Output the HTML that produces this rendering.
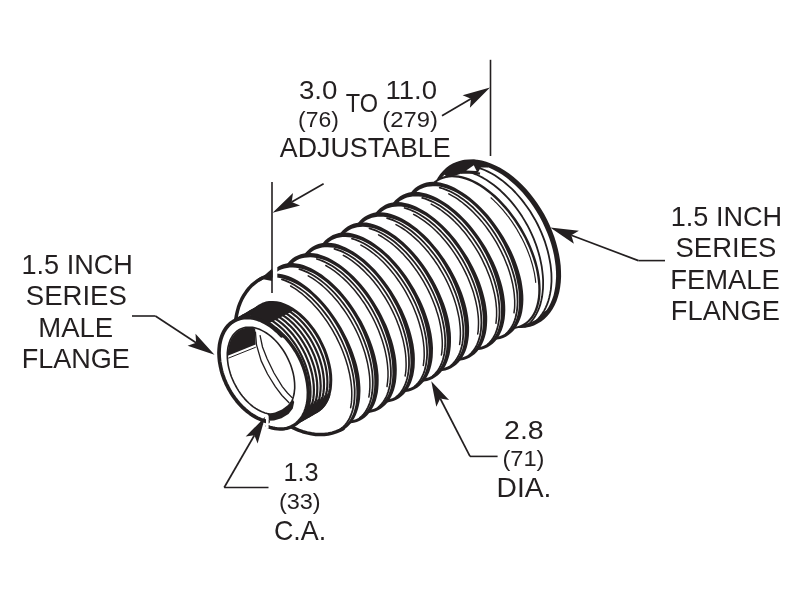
<!DOCTYPE html>
<html><head><meta charset="utf-8"><title>Adjustable bellows</title>
<style>
html,body{margin:0;padding:0;background:#fff;}
svg{display:block}
text{font-family:"Liberation Sans",sans-serif;fill:#231f20;}
</style></head><body>
<svg width="800" height="598" viewBox="0 0 800 598">
<rect width="800" height="598" fill="#fff"/>
<g id="bellows">
<path d="M536.1,322.1 L539.4,320.1 L542.5,317.8 L545.3,315.0 L547.9,312.0 L550.3,308.5 L552.3,304.8 L554.1,300.8 L555.6,296.5 L556.8,292.0 L557.7,287.2 L558.3,282.2 L558.6,277.0 L558.5,271.6 L558.2,266.2 L557.5,260.6 L556.5,254.9 L555.3,249.2 L553.7,243.4 L551.9,237.7 L549.7,232.0 L547.3,226.3 L544.7,220.7 L541.8,215.3 L538.6,209.9 L535.3,204.8 L531.7,199.8 L528.0,195.1 L524.1,190.6 L520.1,186.3 L515.9,182.3 L511.6,178.7 L507.3,175.3 L502.9,172.3 L498.4,169.6 L494.0,167.3 L489.5,165.4 L485.1,163.8 L480.7,162.7 L476.3,161.9 L472.1,161.5 L468.0,161.6 L463.9,162.0 L460.1,162.8 L456.4,164.1 L452.9,165.7 L449.6,167.7 L446.5,170.0 L443.7,172.8 L441.1,175.8 L438.7,179.3 L436.7,183.0 L434.9,187.0 L433.4,191.3 L432.2,195.8 L431.3,200.6 L430.7,205.6 L430.4,210.8 L430.5,216.2 L430.8,221.6 L431.5,227.2 L432.5,232.9 L433.7,238.6 L435.3,244.4 L437.1,250.1 L439.3,255.8 L441.7,261.5 L444.3,267.1 L447.2,272.5 L450.4,277.9 L453.7,283.0 L457.3,288.0 L461.0,292.7 L464.9,297.2 L468.9,301.5 L473.1,305.5 L477.4,309.1 L481.7,312.5 L486.1,315.5 L490.6,318.2 L495.0,320.5 L499.5,322.4 L503.9,324.0 L508.3,325.1 L512.7,325.9 L516.9,326.3 L521.0,326.2 L525.1,325.8 L528.9,325.0 L532.6,323.7Z" fill="#fff"/>
<path d="M500.0,324.4 L504.5,325.9 L509.0,327.1 L513.4,327.8 L517.8,328.1 L522.0,328.1 L526.2,327.6 L530.2,326.7 L534.0,325.4 L537.7,323.6 L541.2,321.5 L544.4,319.0 L547.4,316.1 L550.1,312.8 L552.5,309.2 L554.7,305.3 L556.5,301.2 L558.0,296.7 L559.3,292.0 L560.2,287.1 L560.8,281.9 L561.1,276.6 L561.0,271.2 L560.7,265.6 L560.0,259.9 L559.0,254.2 L557.7,248.4 L556.1,242.5 L554.3,236.7 L552.1,231.0 L549.7,225.2 L547.0,219.6 L544.1,214.1 L540.9,208.7 L537.5,203.5 L533.9,198.5 L530.2,193.7 L526.2,189.1 L522.1,184.8 L517.9,180.8 L513.6,177.1 L509.1,173.6 L504.6,170.6 L500.1,167.8 L495.5,165.4 L490.9,163.4 L486.3,161.8 L481.8,160.6 L477.3,159.8 L472.9,159.4 L468.5,159.4 L464.3,159.8 L460.3,160.7 L456.4,161.9 L452.7,163.6 L449.2,165.6 L446.0,168.1 L443.0,170.9 L440.3,174.0 L437.9,177.5 L435.7,181.2 L438.6,182.8 L440.7,179.3 L443.0,176.2 L445.6,173.4 L448.3,170.9 L451.3,168.8 L454.5,167.1 L457.8,165.7 L461.3,164.6 L464.9,163.9 L468.7,163.6 L472.6,163.7 L476.6,164.2 L480.8,165.0 L484.9,166.2 L489.2,167.8 L493.5,169.7 L497.7,172.0 L502.0,174.6 L506.2,177.6 L510.4,180.9 L514.5,184.5 L518.6,188.4 L522.5,192.5 L526.2,196.9 L529.8,201.6 L533.3,206.4 L536.5,211.4 L539.5,216.6 L542.4,221.9 L544.9,227.4 L547.3,232.9 L549.4,238.4 L551.2,244.0 L552.7,249.6 L554.0,255.2 L554.9,260.7 L555.6,266.1 L556.0,271.4 L556.1,276.5 L555.8,281.6 L555.3,286.4 L554.5,291.0 L553.5,295.4 L552.1,299.5 L550.5,303.3 L548.6,306.9 L546.5,310.2 L544.1,313.1 L541.5,315.7 L538.7,318.0 L535.7,320.0 L532.5,321.6 L529.1,322.9 L525.5,323.8 L521.7,324.3 L517.9,324.5 L513.8,324.2 L509.7,323.6 L505.5,322.7 L501.2,321.3Z" fill="#231f20"/>
<path d="M533.9,322.7 L536.3,320.8 L538.5,318.5 L540.5,316.1 L542.4,313.5 L544.2,310.6 L545.7,307.6 L547.1,304.4 L548.3,301.0 L549.3,297.4 L550.1,293.7 L550.8,289.9 L551.2,285.9 L551.5,281.8 L551.5,277.6 L551.4,273.4 L551.0,269.0 L550.5,264.6 L549.7,260.1 L548.8,255.6 L547.7,251.0 L546.4,246.5 L545.0,241.9 L543.3,237.4 L541.5,232.9 L539.5,228.4 L537.4,224.0 L535.1,219.7 L532.6,215.5 L530.1,211.3 L527.3,207.3 L524.5,203.4 L521.6,199.6 L518.5,196.0 L515.4,192.5 L512.2,189.2 L508.8,186.1 L505.5,183.2 L502.1,180.4 L498.6,177.9 L495.1,175.6 L491.6,173.5 L488.0,171.6 L484.5,170.0 L480.9,168.6 L477.4,167.4 L474.0,166.5 L470.5,165.8 L467.1,165.4" fill="none" stroke="#231f20" stroke-width="1.8" stroke-linecap="round" stroke-linejoin="round"/>
<path d="M528.5,324.7 L530.7,322.3 L532.7,319.8 L534.6,317.0 L536.3,314.1 L537.9,310.9 L539.2,307.6 L540.4,304.1 L541.3,300.4 L542.1,296.5 L542.6,292.5 L543.0,288.4 L543.1,284.2 L543.1,279.9 L542.8,275.5 L542.3,271.0 L541.7,266.4 L540.8,261.8 L539.8,257.2 L538.5,252.6 L537.1,247.9 L535.5,243.3 L533.7,238.7 L531.7,234.1 L529.6,229.6 L527.3,225.2 L524.8,220.9 L522.2,216.6 L519.5,212.5 L516.6,208.5 L513.6,204.6 L510.5,200.9 L507.3,197.3 L504.0,194.0 L500.7,190.8 L497.2,187.8 L493.8,185.0 L490.2,182.4 L486.6,180.0 L483.1,177.9 L479.4,176.0 L475.8,174.3 L472.2,172.9 L468.7,171.8 L465.1,170.9 L461.6,170.2 L458.2,169.8 L454.8,169.7 L451.5,169.8" fill="none" stroke="#231f20" stroke-width="1.8" stroke-linecap="round" stroke-linejoin="round"/>
<path d="M528.9,325.0 L529.6,324.8 L530.2,324.6 L530.9,324.4 L531.5,324.2 L532.1,323.9 L532.8,323.7 L533.4,323.4 L534.0,323.1 L534.6,322.9 L535.2,322.6 L535.8,322.3 L536.4,321.9 L537.0,321.6 L537.6,321.3 L538.2,320.9 L538.8,320.6 L539.3,320.2 L539.9,319.8 L540.4,319.4 L541.0,319.0 L541.5,318.6 L542.0,318.1 L542.5,317.7 L543.1,317.2 L543.6,316.8 L544.1,316.3 L544.6,315.8 L545.0,315.3 L545.5,314.8 L546.0,314.3 L546.5,313.8 L546.9,313.2 L547.4,312.7 L547.8,312.1 L548.2,311.5 L548.6,311.0 L549.1,310.4 L549.5,309.8 L549.9,309.2 L550.3,308.5 L544.1,311.8 L543.7,312.5 L543.3,313.1 L542.9,313.7 L542.5,314.3 L542.0,314.8 L541.6,315.4 L541.2,316.0 L540.7,316.5 L540.3,317.1 L539.8,317.6 L539.3,318.1 L538.9,318.6 L538.4,319.1 L537.9,319.6 L537.4,320.1 L536.9,320.5 L536.4,321.0 L535.8,321.4 L535.3,321.9 L534.8,322.3 L534.2,322.7 L533.7,323.1 L533.1,323.5 L532.6,323.8 L532.0,324.2 L531.4,324.6 L530.8,324.9 L530.3,325.2 L529.7,325.6 L529.1,325.9 L528.5,326.1 L527.8,326.4 L527.2,326.7 L526.6,327.0 L526.0,327.2 L525.3,327.4 L524.7,327.7 L524.0,327.9 L523.4,328.1 L522.7,328.3Z" fill="#231f20"/>
<path d="M524.0,324.5 L526.7,322.7 L529.1,320.6 L531.3,318.1 L533.3,315.3 L535.0,312.1 L536.4,308.7 L537.6,305.0 L538.5,301.1 L539.1,296.9 L539.4,292.5 L539.5,287.9 L539.2,283.2 L538.7,278.2 L537.9,273.2 L536.8,268.0 L535.5,262.8 L533.9,257.5 L532.0,252.2 L529.9,246.9 L527.5,241.6 L524.9,236.4 L522.1,231.3 L519.2,226.2 L516.0,221.3 L512.6,216.5 L509.1,211.9 L505.5,207.5 L501.7,203.3 L497.9,199.4 L493.9,195.7 L489.9,192.3 L485.9,189.2 L481.8,186.4 L477.7,183.9 L473.7,181.7 L469.7,179.9 L465.7,178.4 L461.8,177.3 L458.0,176.6 L454.3,176.2 L450.8,176.2 L447.4,176.6 L444.1,177.3 L441.1,178.4 L438.2,179.9 L435.5,181.7 L433.1,183.8 L430.9,186.3 L429.0,189.1 L427.3,192.3 L425.8,195.7 L424.7,199.4 L423.8,203.3 L423.1,207.5 L422.8,211.9 L422.8,216.5 L423.0,221.2 L423.5,226.2 L424.3,231.2 L425.4,236.4 L426.7,241.6 L428.4,246.9 L430.2,252.2 L432.3,257.5 L434.7,262.8 L437.3,268.0 L440.1,273.1 L443.1,278.2 L446.3,283.1 L449.6,287.9 L453.1,292.5 L456.7,296.9 L460.5,301.1 L464.4,305.0 L468.3,308.7 L472.3,312.1 L476.4,315.2 L480.4,318.0 L484.5,320.5 L488.6,322.7 L492.6,324.5 L496.5,326.0 L500.4,327.1 L504.2,327.8 L507.9,328.2 L511.5,328.2 L514.9,327.8 L518.1,327.1 L521.2,326.0Z" fill="#fff"/>
<path d="M508.8,329.2 L512.1,329.1 L515.3,328.8 L518.3,328.1 L521.2,327.1 L523.9,325.8 L526.5,324.1 L528.9,322.2 L531.1,320.0 L533.1,317.5 L534.8,314.8 L536.4,311.8 L537.7,308.6 L538.7,305.1 L539.6,301.5 L540.2,297.6 L540.5,293.6 L540.7,289.4 L540.5,285.0 L540.2,280.5 L539.6,276.0 L538.8,271.3 L537.7,266.5 L536.5,261.7 L535.0,256.9 L533.2,252.0 L531.3,247.2 L529.2,242.3 L526.9,237.5 L524.4,232.8 L521.8,228.1 L518.9,223.5 L516.0,219.1 L512.8,214.7 L509.6,210.6 L506.3,206.5 L502.8,202.7 L499.3,199.1 L495.7,195.6 L492.0,192.4 L488.3,189.5 L484.6,186.8 L480.8,184.3 L477.0,182.1 L473.3,180.2 L469.6,178.6 L465.9,177.3 L462.3,176.3 L458.7,175.6 L455.3,175.2 L451.9,175.1 L448.7,175.3 L445.5,175.8 L442.6,176.7 L439.7,177.9 L437.1,179.4 L434.6,181.1 L432.3,183.2 L430.3,185.5 L428.4,188.2 L426.8,191.0 L428.5,191.9 L430.1,189.2 L431.8,186.8 L433.8,184.6 L435.9,182.7 L438.2,181.1 L440.6,179.8 L443.3,178.7 L446.0,177.9 L448.9,177.5 L452.0,177.3 L455.1,177.4 L458.4,177.8 L461.8,178.5 L465.2,179.5 L468.7,180.8 L472.3,182.3 L475.9,184.2 L479.5,186.3 L483.2,188.7 L486.8,191.4 L490.4,194.3 L494.0,197.5 L497.5,200.8 L501.0,204.4 L504.4,208.2 L507.7,212.1 L510.8,216.2 L513.9,220.5 L516.8,224.9 L519.6,229.4 L522.2,234.0 L524.7,238.6 L526.9,243.4 L529.0,248.1 L530.9,252.9 L532.6,257.7 L534.1,262.4 L535.4,267.1 L536.4,271.8 L537.2,276.3 L537.8,280.8 L538.2,285.2 L538.3,289.4 L538.2,293.4 L537.9,297.3 L537.3,301.0 L536.5,304.5 L535.5,307.8 L534.3,310.9 L532.9,313.7 L531.3,316.3 L529.5,318.6 L527.5,320.7 L525.3,322.5 L522.9,324.0 L520.4,325.2 L517.7,326.2 L514.9,326.8 L511.9,327.2 L508.8,327.3Z" fill="#231f20"/>
<path d="M535.7,282.3 L535.5,280.5 L535.3,278.7 L535.0,276.8 L534.7,275.0 L534.4,273.1 L534.0,271.3 L533.5,269.4 L533.1,267.5 L532.6,265.6 L532.1,263.7 L531.5,261.8 L530.9,259.9 L530.3,257.9 L529.6,256.0 L528.9,254.1 L528.2,252.2 L527.4,250.3 L526.6,248.3 L525.8,246.4 L524.9,244.5 L524.0,242.6 L523.1,240.7 L522.1,238.8 L521.1,236.9 L520.1,235.1 L519.1,233.2 L518.0,231.4 L517.0,229.5 L515.8,227.7 L514.7,225.9 L513.5,224.1 L512.4,222.4 L511.2,220.6 L509.9,218.9 L508.7,217.2 L507.4,215.6 L506.1,213.9 L504.8,212.3 L503.5,210.7 L502.2,209.1 L500.8,207.6 L499.4,206.1 L498.0,204.6 L496.6,203.2 L495.2,201.8 L493.8,200.4 L492.4,199.1 L491.0,197.8" fill="none" stroke="#231f20" stroke-width="1.2" stroke-linecap="round" stroke-linejoin="round"/>
<path d="M442.5,173.0 L446.0,169.3 L451.0,165.5 L457.0,162.4 L462.0,160.8 L466.0,160.2 L474.0,159.6 L482.5,161.4 L489.0,165.5 L487.8,167.6 L480.8,167.5 L478.2,172.0 L465.0,172.2 L456.3,175.2 L447.5,177.2Z" fill="#231f20"/>
<path d="M466.2,170.6 L473.8,165.2 L476.6,170.9Z" fill="#fff"/>
<path d="M461.0,172.6 L470.0,172.2 L480.0,173.6" fill="none" stroke="#231f20" stroke-width="2.4" stroke-linejoin="miter"/>
<path d="M505.8,335.0 L508.4,333.2 L510.9,331.1 L513.1,328.6 L515.0,325.8 L516.7,322.6 L518.2,319.2 L519.3,315.5 L520.2,311.5 L520.8,307.3 L521.1,302.8 L521.2,298.2 L520.9,293.3 L520.4,288.4 L519.6,283.2 L518.5,278.0 L517.1,272.7 L515.5,267.3 L513.6,262.0 L511.5,256.6 L509.1,251.2 L506.5,245.9 L503.7,240.6 L500.6,235.5 L497.4,230.4 L494.1,225.6 L490.5,220.9 L486.9,216.4 L483.1,212.1 L479.2,208.1 L475.2,204.3 L471.2,200.8 L467.1,197.6 L463.0,194.7 L458.9,192.1 L454.9,189.8 L450.8,188.0 L446.8,186.4 L442.9,185.3 L439.1,184.5 L435.4,184.0 L431.8,184.0 L428.4,184.3 L425.2,185.0 L422.1,186.1 L419.2,187.6 L416.6,189.4 L414.1,191.5 L411.9,194.0 L410.0,196.8 L408.3,200.0 L406.8,203.4 L405.7,207.1 L404.8,211.1 L404.2,215.3 L403.9,219.8 L403.8,224.4 L404.1,229.3 L404.6,234.2 L405.4,239.4 L406.5,244.6 L407.9,249.9 L409.5,255.3 L411.4,260.6 L413.5,266.0 L415.9,271.4 L418.5,276.7 L421.3,282.0 L424.4,287.1 L427.6,292.2 L430.9,297.0 L434.5,301.7 L438.1,306.2 L441.9,310.5 L445.8,314.5 L449.8,318.3 L453.8,321.8 L457.9,325.0 L462.0,327.9 L466.1,330.5 L470.1,332.8 L474.2,334.6 L478.2,336.2 L482.1,337.3 L485.9,338.1 L489.6,338.6 L493.2,338.6 L496.6,338.3 L499.8,337.6 L502.9,336.5Z" fill="#fff"/>
<path d="M490.4,340.0 L493.8,340.0 L497.0,339.6 L500.1,339.0 L503.1,338.0 L505.9,336.7 L508.5,335.1 L511.0,333.1 L513.2,330.9 L515.3,328.4 L517.1,325.6 L518.7,322.6 L520.1,319.3 L521.3,315.8 L522.2,312.0 L522.8,308.1 L523.2,303.9 L523.4,299.6 L523.3,295.2 L522.9,290.6 L522.3,285.9 L521.5,281.1 L520.4,276.2 L519.0,271.3 L517.5,266.4 L515.7,261.4 L513.7,256.5 L511.5,251.6 L509.1,246.7 L506.5,241.9 L503.7,237.1 L500.8,232.4 L497.8,227.9 L494.6,223.5 L491.4,219.2 L488.0,215.1 L484.5,211.2 L480.9,207.5 L477.3,203.9 L473.6,200.7 L469.8,197.6 L466.1,194.8 L462.3,192.2 L458.5,189.9 L454.8,187.8 L451.0,186.1 L447.3,184.6 L443.7,183.4 L440.0,182.5 L436.5,181.9 L433.0,181.7 L429.6,181.9 L426.4,182.5 L423.3,183.4 L420.4,184.7 L417.6,186.2 L415.1,188.1 L412.8,190.3 L410.7,192.7 L408.8,195.4 L407.1,198.4 L410.2,199.9 L411.7,197.3 L413.5,194.9 L415.4,192.9 L417.5,191.1 L419.7,189.6 L422.1,188.4 L424.6,187.4 L427.3,186.8 L430.1,186.4 L433.0,186.2 L436.1,186.3 L439.3,186.6 L442.6,187.3 L446.1,188.2 L449.6,189.4 L453.2,191.0 L456.8,192.8 L460.5,195.0 L464.2,197.4 L467.8,200.1 L471.5,203.1 L475.1,206.3 L478.6,209.7 L482.1,213.4 L485.5,217.3 L488.7,221.3 L491.9,225.5 L495.0,229.9 L497.9,234.3 L500.6,238.9 L503.2,243.6 L505.6,248.4 L507.8,253.2 L509.9,258.1 L511.7,262.9 L513.3,267.8 L514.8,272.6 L516.0,277.3 L517.0,282.0 L517.9,286.6 L518.5,291.1 L518.8,295.4 L519.0,299.6 L519.0,303.7 L518.7,307.6 L518.2,311.3 L517.5,314.8 L516.6,318.0 L515.5,321.1 L514.1,323.9 L512.6,326.5 L510.8,328.8 L508.9,330.8 L506.8,332.6 L504.5,334.1 L502.0,335.3 L499.4,336.2 L496.6,336.9 L493.6,337.2 L490.5,337.2Z" fill="#231f20"/>
<path d="M506.0,333.8 L507.8,332.1 L509.4,330.1 L510.9,328.0 L512.3,325.7 L513.5,323.3 L514.6,320.6 L515.5,317.8 L516.2,314.8 L516.8,311.7 L517.2,308.5 L517.5,305.1 L517.6,301.7 L517.5,298.1 L517.3,294.4 L516.9,290.6 L516.3,286.7 L515.6,282.8 L514.7,278.8 L513.6,274.8 L512.4,270.8 L511.1,266.7 L509.6,262.6 L508.0,258.5 L506.2,254.5 L504.3,250.4 L502.3,246.4 L500.1,242.5 L497.8,238.6 L495.5,234.7 L493.0,231.0 L490.4,227.3 L487.7,223.8 L485.0,220.3 L482.2,217.0 L479.3,213.8 L476.3,210.8 L473.4,207.8 L470.3,205.1 L467.3,202.5 L464.2,200.1 L461.1,197.9 L458.0,195.8 L454.9,194.0 L451.8,192.3 L448.7,190.8 L445.7,189.6 L442.7,188.5 L439.7,187.7" fill="none" stroke="#231f20" stroke-width="1.8" stroke-linecap="round" stroke-linejoin="round"/>
<path d="M514.0,312.8 L514.3,310.4 L514.6,308.0 L514.7,305.5 L514.7,302.9 L514.7,300.3 L514.5,297.7 L514.3,295.0 L514.0,292.2 L513.6,289.4 L513.1,286.6 L512.6,283.7 L511.9,280.8 L511.2,277.9 L510.4,275.0 L509.5,272.0 L508.5,269.1 L507.5,266.1 L506.3,263.2 L505.1,260.2 L503.9,257.2 L502.5,254.3 L501.1,251.4 L499.6,248.5 L498.1,245.6 L496.5,242.7 L494.8,239.9 L493.1,237.1 L491.3,234.4 L489.5,231.7 L487.6,229.0 L485.7,226.4 L483.7,223.9 L481.7,221.4 L479.6,219.0 L477.6,216.7 L475.4,214.4 L473.3,212.2 L471.1,210.1 L468.9,208.1 L466.7,206.1 L464.5,204.3 L462.3,202.5 L460.0,200.8 L457.8,199.2 L455.5,197.7 L453.2,196.3 L451.0,195.1 L448.8,193.9" fill="none" stroke="#231f20" stroke-width="1.5" stroke-linecap="round" stroke-linejoin="round"/>
<path d="M487.5,345.6 L490.2,343.8 L492.6,341.6 L494.8,339.1 L496.8,336.3 L498.5,333.2 L500.0,329.8 L501.2,326.1 L502.1,322.1 L502.7,317.9 L503.0,313.4 L503.1,308.8 L502.9,303.9 L502.4,298.9 L501.6,293.8 L500.5,288.6 L499.2,283.3 L497.6,277.9 L495.7,272.5 L493.6,267.1 L491.2,261.7 L488.7,256.4 L485.9,251.1 L482.9,245.9 L479.7,240.9 L476.3,236.0 L472.8,231.3 L469.2,226.8 L465.4,222.5 L461.6,218.4 L457.6,214.6 L453.6,211.1 L449.5,207.9 L445.5,205.0 L441.4,202.4 L437.3,200.1 L433.3,198.2 L429.3,196.6 L425.4,195.5 L421.6,194.6 L417.9,194.2 L414.3,194.1 L410.9,194.5 L407.7,195.2 L404.6,196.2 L401.7,197.6 L399.0,199.4 L396.6,201.6 L394.4,204.1 L392.4,206.9 L390.7,210.0 L389.2,213.4 L388.0,217.1 L387.1,221.1 L386.5,225.3 L386.2,229.8 L386.1,234.4 L386.3,239.3 L386.8,244.3 L387.6,249.4 L388.7,254.6 L390.0,259.9 L391.6,265.3 L393.5,270.7 L395.6,276.1 L398.0,281.5 L400.5,286.8 L403.3,292.1 L406.3,297.3 L409.5,302.3 L412.9,307.2 L416.4,311.9 L420.0,316.4 L423.8,320.7 L427.6,324.8 L431.6,328.6 L435.6,332.1 L439.7,335.3 L443.7,338.2 L447.8,340.8 L451.9,343.1 L455.9,345.0 L459.9,346.6 L463.8,347.7 L467.6,348.6 L471.3,349.0 L474.9,349.1 L478.3,348.7 L481.5,348.0 L484.6,347.0Z" fill="#fff"/>
<path d="M472.2,350.4 L475.5,350.4 L478.7,350.1 L481.8,349.4 L484.8,348.5 L487.6,347.2 L490.3,345.6 L492.7,343.7 L495.0,341.4 L497.1,339.0 L498.9,336.2 L500.5,333.1 L501.9,329.9 L503.1,326.3 L504.0,322.6 L504.7,318.7 L505.1,314.5 L505.3,310.2 L505.2,305.8 L504.9,301.2 L504.3,296.5 L503.5,291.7 L502.4,286.8 L501.1,281.9 L499.5,277.0 L497.8,272.0 L495.8,267.0 L493.6,262.1 L491.2,257.2 L488.7,252.4 L486.0,247.6 L483.1,242.9 L480.1,238.4 L476.9,234.0 L473.7,229.7 L470.3,225.6 L466.8,221.6 L463.3,217.9 L459.6,214.3 L456.0,211.0 L452.2,207.9 L448.5,205.1 L444.7,202.5 L441.0,200.2 L437.2,198.1 L433.5,196.3 L429.8,194.8 L426.1,193.6 L422.5,192.7 L419.0,192.1 L415.5,191.9 L412.1,192.1 L408.9,192.6 L405.8,193.5 L402.8,194.7 L400.1,196.3 L397.6,198.2 L395.2,200.3 L393.1,202.8 L391.2,205.5 L389.5,208.4 L392.6,210.0 L394.1,207.3 L395.9,205.0 L397.8,202.9 L399.9,201.1 L402.2,199.7 L404.6,198.5 L407.1,197.6 L409.8,196.9 L412.6,196.5 L415.5,196.4 L418.6,196.5 L421.8,196.8 L425.1,197.5 L428.5,198.4 L432.1,199.7 L435.7,201.2 L439.3,203.1 L442.9,205.3 L446.6,207.7 L450.2,210.5 L453.9,213.4 L457.4,216.7 L461.0,220.1 L464.4,223.8 L467.8,227.7 L471.0,231.7 L474.2,235.9 L477.2,240.3 L480.1,244.8 L482.8,249.4 L485.4,254.1 L487.8,258.9 L490.0,263.7 L492.0,268.6 L493.8,273.5 L495.4,278.3 L496.8,283.1 L498.0,287.9 L499.0,292.6 L499.8,297.2 L500.4,301.6 L500.8,306.0 L500.9,310.2 L500.9,314.3 L500.6,318.2 L500.1,321.8 L499.3,325.3 L498.4,328.6 L497.3,331.7 L495.9,334.5 L494.4,337.0 L492.6,339.3 L490.7,341.3 L488.5,343.1 L486.2,344.6 L483.7,345.8 L481.1,346.7 L478.3,347.3 L475.4,347.6 L472.3,347.7Z" fill="#231f20"/>
<path d="M487.7,344.3 L489.5,342.6 L491.2,340.7 L492.7,338.6 L494.1,336.3 L495.3,333.8 L496.4,331.2 L497.3,328.4 L498.0,325.4 L498.6,322.3 L499.1,319.1 L499.4,315.7 L499.5,312.2 L499.4,308.6 L499.2,304.9 L498.8,301.2 L498.3,297.3 L497.6,293.4 L496.7,289.4 L495.7,285.4 L494.5,281.3 L493.2,277.2 L491.7,273.1 L490.1,269.1 L488.3,265.0 L486.5,260.9 L484.4,256.9 L482.3,252.9 L480.1,249.0 L477.7,245.2 L475.2,241.4 L472.7,237.8 L470.0,234.2 L467.3,230.7 L464.5,227.4 L461.6,224.2 L458.7,221.1 L455.7,218.2 L452.7,215.4 L449.6,212.8 L446.6,210.4 L443.5,208.2 L440.4,206.1 L437.3,204.2 L434.2,202.5 L431.1,201.1 L428.1,199.8 L425.1,198.7 L422.2,197.9" fill="none" stroke="#231f20" stroke-width="1.8" stroke-linecap="round" stroke-linejoin="round"/>
<path d="M495.9,323.3 L496.2,321.0 L496.4,318.5 L496.6,316.0 L496.6,313.5 L496.6,310.9 L496.5,308.2 L496.2,305.5 L496.0,302.8 L495.6,300.0 L495.1,297.1 L494.6,294.3 L493.9,291.4 L493.2,288.5 L492.4,285.5 L491.5,282.6 L490.6,279.6 L489.5,276.6 L488.4,273.7 L487.2,270.7 L486.0,267.7 L484.6,264.8 L483.2,261.9 L481.8,258.9 L480.3,256.1 L478.7,253.2 L477.0,250.4 L475.3,247.6 L473.5,244.8 L471.7,242.1 L469.8,239.5 L467.9,236.9 L466.0,234.3 L464.0,231.8 L461.9,229.4 L459.9,227.1 L457.8,224.8 L455.6,222.6 L453.5,220.4 L451.3,218.4 L449.1,216.4 L446.9,214.6 L444.6,212.8 L442.4,211.1 L440.2,209.5 L437.9,208.0 L435.7,206.6 L433.4,205.3 L431.2,204.1" fill="none" stroke="#231f20" stroke-width="1.5" stroke-linecap="round" stroke-linejoin="round"/>
<path d="M469.2,356.1 L471.9,354.3 L474.4,352.2 L476.6,349.7 L478.6,346.9 L480.3,343.8 L481.8,340.3 L483.0,336.6 L483.9,332.7 L484.6,328.4 L484.9,324.0 L485.0,319.3 L484.8,314.5 L484.3,309.5 L483.6,304.4 L482.5,299.2 L481.2,293.8 L479.6,288.5 L477.8,283.0 L475.7,277.6 L473.4,272.2 L470.8,266.9 L468.1,261.6 L465.1,256.4 L461.9,251.4 L458.6,246.5 L455.1,241.7 L451.5,237.2 L447.8,232.9 L443.9,228.8 L440.0,225.0 L436.0,221.5 L432.0,218.2 L427.9,215.3 L423.8,212.7 L419.8,210.4 L415.7,208.4 L411.8,206.9 L407.9,205.7 L404.1,204.8 L400.4,204.4 L396.8,204.3 L393.4,204.6 L390.1,205.3 L387.0,206.3 L384.2,207.7 L381.5,209.5 L379.0,211.6 L376.8,214.1 L374.8,216.9 L373.1,220.0 L371.6,223.5 L370.4,227.2 L369.5,231.1 L368.8,235.4 L368.5,239.8 L368.4,244.5 L368.6,249.3 L369.1,254.3 L369.8,259.4 L370.9,264.6 L372.2,270.0 L373.8,275.3 L375.6,280.8 L377.7,286.2 L380.0,291.6 L382.6,296.9 L385.3,302.2 L388.3,307.4 L391.5,312.4 L394.8,317.3 L398.3,322.1 L401.9,326.6 L405.6,330.9 L409.5,335.0 L413.4,338.8 L417.4,342.3 L421.4,345.6 L425.5,348.5 L429.6,351.1 L433.6,353.4 L437.7,355.4 L441.6,356.9 L445.5,358.1 L449.3,359.0 L453.0,359.4 L456.6,359.5 L460.0,359.2 L463.3,358.5 L466.4,357.5Z" fill="#fff"/>
<path d="M453.9,360.8 L457.2,360.9 L460.5,360.6 L463.6,359.9 L466.5,359.0 L469.4,357.7 L472.0,356.1 L474.5,354.2 L476.8,352.0 L478.8,349.5 L480.7,346.7 L482.3,343.7 L483.7,340.4 L484.9,336.9 L485.9,333.2 L486.6,329.2 L487.0,325.1 L487.2,320.8 L487.2,316.4 L486.9,311.8 L486.3,307.1 L485.5,302.3 L484.4,297.4 L483.1,292.5 L481.6,287.5 L479.9,282.6 L477.9,277.6 L475.7,272.6 L473.4,267.7 L470.9,262.9 L468.2,258.1 L465.3,253.4 L462.3,248.9 L459.2,244.4 L456.0,240.1 L452.6,236.0 L449.2,232.0 L445.6,228.3 L442.0,224.7 L438.4,221.4 L434.6,218.3 L430.9,215.4 L427.2,212.8 L423.4,210.4 L419.7,208.4 L416.0,206.5 L412.3,205.0 L408.6,203.8 L405.0,202.9 L401.5,202.3 L398.0,202.0 L394.6,202.2 L391.3,202.7 L388.2,203.6 L385.3,204.8 L382.6,206.4 L380.0,208.3 L377.7,210.4 L375.6,212.8 L373.6,215.5 L372.0,218.4 L375.0,220.0 L376.6,217.4 L378.3,215.1 L380.2,213.0 L382.3,211.2 L384.6,209.8 L387.0,208.6 L389.6,207.7 L392.2,207.0 L395.0,206.7 L398.0,206.5 L401.0,206.6 L404.2,207.0 L407.6,207.7 L411.0,208.7 L414.5,209.9 L418.1,211.5 L421.7,213.4 L425.4,215.6 L429.0,218.0 L432.6,220.8 L436.2,223.8 L439.8,227.0 L443.3,230.5 L446.7,234.2 L450.1,238.1 L453.3,242.2 L456.5,246.4 L459.5,250.8 L462.3,255.3 L465.0,259.9 L467.6,264.6 L469.9,269.4 L472.1,274.3 L474.1,279.1 L475.9,284.0 L477.5,288.8 L478.9,293.7 L480.1,298.4 L481.0,303.1 L481.8,307.7 L482.4,312.2 L482.7,316.6 L482.8,320.8 L482.7,324.8 L482.4,328.7 L481.9,332.4 L481.2,335.9 L480.2,339.2 L479.1,342.2 L477.7,345.0 L476.1,347.6 L474.4,349.8 L472.4,351.9 L470.3,353.6 L468.0,355.1 L465.5,356.3 L462.8,357.2 L460.0,357.8 L457.1,358.1 L454.0,358.1Z" fill="#231f20"/>
<path d="M469.5,354.8 L471.3,353.1 L472.9,351.2 L474.5,349.1 L475.9,346.8 L477.1,344.3 L478.2,341.7 L479.1,338.9 L479.9,336.0 L480.5,332.9 L481.0,329.6 L481.2,326.3 L481.4,322.8 L481.3,319.2 L481.1,315.5 L480.8,311.7 L480.2,307.9 L479.6,303.9 L478.7,299.9 L477.7,295.9 L476.6,291.9 L475.2,287.8 L473.8,283.7 L472.2,279.6 L470.5,275.5 L468.6,271.4 L466.6,267.4 L464.5,263.4 L462.3,259.5 L459.9,255.7 L457.5,251.9 L454.9,248.2 L452.3,244.6 L449.6,241.1 L446.8,237.8 L443.9,234.6 L441.0,231.5 L438.1,228.6 L435.1,225.8 L432.0,223.2 L429.0,220.7 L425.9,218.5 L422.8,216.4 L419.7,214.5 L416.6,212.8 L413.6,211.3 L410.6,210.0 L407.6,208.9 L404.6,208.0" fill="none" stroke="#231f20" stroke-width="1.8" stroke-linecap="round" stroke-linejoin="round"/>
<path d="M477.7,333.9 L478.1,331.5 L478.3,329.1 L478.4,326.6 L478.5,324.0 L478.5,321.4 L478.4,318.8 L478.2,316.1 L477.9,313.3 L477.5,310.5 L477.1,307.7 L476.5,304.8 L475.9,301.9 L475.2,299.0 L474.4,296.1 L473.6,293.1 L472.6,290.1 L471.6,287.2 L470.5,284.2 L469.3,281.2 L468.1,278.2 L466.8,275.3 L465.4,272.4 L463.9,269.4 L462.4,266.5 L460.8,263.7 L459.2,260.8 L457.5,258.0 L455.8,255.3 L454.0,252.6 L452.1,249.9 L450.2,247.3 L448.3,244.7 L446.3,242.2 L444.2,239.8 L442.2,237.4 L440.1,235.1 L438.0,232.9 L435.8,230.8 L433.7,228.7 L431.5,226.8 L429.3,224.9 L427.0,223.1 L424.8,221.4 L422.6,219.8 L420.3,218.3 L418.1,216.8 L415.8,215.5 L413.6,214.3" fill="none" stroke="#231f20" stroke-width="1.5" stroke-linecap="round" stroke-linejoin="round"/>
<path d="M451.0,366.6 L453.7,364.8 L456.1,362.7 L458.4,360.2 L460.4,357.4 L462.1,354.3 L463.6,350.9 L464.8,347.2 L465.8,343.2 L466.4,339.0 L466.8,334.6 L466.9,329.9 L466.8,325.1 L466.3,320.1 L465.6,315.0 L464.5,309.7 L463.3,304.4 L461.7,299.0 L459.9,293.6 L457.8,288.2 L455.5,282.8 L453.0,277.4 L450.3,272.1 L447.3,266.9 L444.2,261.9 L440.9,256.9 L437.4,252.2 L433.8,247.6 L430.1,243.3 L426.3,239.2 L422.4,235.4 L418.4,231.8 L414.4,228.5 L410.3,225.6 L406.3,222.9 L402.2,220.6 L398.2,218.7 L394.2,217.1 L390.3,215.9 L386.5,215.0 L382.8,214.6 L379.3,214.5 L375.9,214.7 L372.6,215.4 L369.5,216.4 L366.6,217.8 L363.9,219.6 L361.5,221.7 L359.2,224.2 L357.2,227.0 L355.5,230.1 L354.0,233.5 L352.8,237.2 L351.8,241.2 L351.2,245.4 L350.8,249.8 L350.7,254.5 L350.8,259.3 L351.3,264.3 L352.0,269.4 L353.1,274.7 L354.3,280.0 L355.9,285.4 L357.7,290.8 L359.8,296.2 L362.1,301.6 L364.6,307.0 L367.3,312.3 L370.3,317.5 L373.4,322.5 L376.7,327.5 L380.2,332.2 L383.8,336.8 L387.5,341.1 L391.3,345.2 L395.2,349.0 L399.2,352.6 L403.2,355.9 L407.3,358.8 L411.3,361.5 L415.4,363.8 L419.4,365.7 L423.4,367.3 L427.3,368.5 L431.1,369.4 L434.8,369.8 L438.3,369.9 L441.7,369.7 L445.0,369.0 L448.1,368.0Z" fill="#fff"/>
<path d="M435.6,371.3 L438.9,371.3 L442.2,371.0 L445.3,370.4 L448.3,369.5 L451.1,368.2 L453.7,366.6 L456.2,364.7 L458.5,362.5 L460.6,360.1 L462.5,357.3 L464.1,354.3 L465.6,351.0 L466.8,347.5 L467.7,343.8 L468.4,339.8 L468.9,335.7 L469.1,331.4 L469.1,327.0 L468.8,322.4 L468.3,317.7 L467.5,312.9 L466.5,308.0 L465.2,303.1 L463.7,298.1 L462.0,293.1 L460.0,288.1 L457.9,283.2 L455.6,278.3 L453.1,273.4 L450.4,268.6 L447.6,263.9 L444.6,259.3 L441.5,254.9 L438.3,250.6 L434.9,246.4 L431.5,242.4 L428.0,238.6 L424.4,235.1 L420.7,231.7 L417.1,228.6 L413.3,225.7 L409.6,223.1 L405.9,220.7 L402.1,218.6 L398.4,216.8 L394.7,215.2 L391.1,214.0 L387.5,213.0 L384.0,212.4 L380.5,212.2 L377.1,212.3 L373.8,212.8 L370.7,213.7 L367.8,214.9 L365.0,216.5 L362.5,218.3 L360.1,220.5 L358.0,222.9 L356.1,225.5 L354.4,228.5 L357.4,230.1 L359.0,227.5 L360.7,225.1 L362.7,223.1 L364.8,221.3 L367.1,219.8 L369.5,218.7 L372.0,217.8 L374.7,217.2 L377.5,216.8 L380.4,216.7 L383.5,216.8 L386.7,217.2 L390.0,217.9 L393.5,218.9 L397.0,220.2 L400.5,221.8 L404.1,223.7 L407.8,225.9 L411.4,228.4 L415.0,231.1 L418.6,234.1 L422.2,237.4 L425.7,240.9 L429.1,244.6 L432.4,248.5 L435.6,252.6 L438.7,256.8 L441.7,261.2 L444.5,265.8 L447.2,270.4 L449.7,275.1 L452.1,279.9 L454.2,284.8 L456.2,289.7 L458.0,294.5 L459.5,299.4 L460.9,304.2 L462.1,309.0 L463.0,313.7 L463.8,318.3 L464.3,322.8 L464.6,327.1 L464.7,331.4 L464.6,335.4 L464.3,339.3 L463.8,343.0 L463.0,346.5 L462.1,349.7 L460.9,352.8 L459.5,355.6 L457.9,358.1 L456.1,360.4 L454.2,362.4 L452.0,364.1 L449.7,365.6 L447.2,366.8 L444.6,367.7 L441.8,368.2 L438.8,368.5 L435.7,368.5Z" fill="#231f20"/>
<path d="M451.2,365.3 L453.0,363.6 L454.7,361.7 L456.2,359.6 L457.6,357.3 L458.9,354.9 L460.0,352.3 L460.9,349.5 L461.7,346.5 L462.4,343.4 L462.8,340.2 L463.1,336.8 L463.3,333.4 L463.2,329.8 L463.1,326.1 L462.7,322.3 L462.2,318.4 L461.5,314.5 L460.7,310.5 L459.7,306.5 L458.6,302.4 L457.3,298.3 L455.9,294.2 L454.3,290.1 L452.6,286.0 L450.8,281.9 L448.8,277.9 L446.7,273.9 L444.5,270.0 L442.1,266.1 L439.7,262.3 L437.2,258.6 L434.6,255.0 L431.9,251.6 L429.1,248.2 L426.3,245.0 L423.4,241.9 L420.4,238.9 L417.4,236.1 L414.4,233.5 L411.4,231.0 L408.3,228.7 L405.2,226.7 L402.2,224.7 L399.1,223.0 L396.0,221.5 L393.0,220.2 L390.0,219.1 L387.1,218.2" fill="none" stroke="#231f20" stroke-width="1.8" stroke-linecap="round" stroke-linejoin="round"/>
<path d="M459.6,344.4 L459.9,342.1 L460.2,339.6 L460.3,337.1 L460.4,334.6 L460.4,332.0 L460.3,329.3 L460.1,326.6 L459.8,323.9 L459.5,321.1 L459.1,318.2 L458.5,315.4 L457.9,312.5 L457.2,309.5 L456.5,306.6 L455.6,303.6 L454.7,300.7 L453.7,297.7 L452.6,294.7 L451.4,291.7 L450.2,288.8 L448.9,285.8 L447.5,282.8 L446.1,279.9 L444.6,277.0 L443.0,274.1 L441.4,271.3 L439.7,268.5 L438.0,265.7 L436.2,263.0 L434.4,260.3 L432.5,257.7 L430.5,255.1 L428.6,252.6 L426.6,250.2 L424.5,247.8 L422.4,245.5 L420.3,243.3 L418.2,241.1 L416.0,239.1 L413.8,237.1 L411.6,235.2 L409.4,233.4 L407.2,231.7 L405.0,230.0 L402.7,228.5 L400.5,227.1 L398.3,225.8 L396.0,224.6" fill="none" stroke="#231f20" stroke-width="1.5" stroke-linecap="round" stroke-linejoin="round"/>
<path d="M432.7,377.1 L435.4,375.3 L437.9,373.2 L440.1,370.8 L442.2,368.0 L443.9,364.9 L445.4,361.5 L446.7,357.8 L447.6,353.8 L448.3,349.6 L448.7,345.2 L448.9,340.5 L448.7,335.7 L448.3,330.7 L447.5,325.6 L446.6,320.3 L445.3,315.0 L443.8,309.6 L442.0,304.1 L439.9,298.7 L437.7,293.3 L435.2,287.9 L432.5,282.6 L429.5,277.4 L426.4,272.3 L423.2,267.4 L419.7,262.6 L416.1,258.1 L412.4,253.7 L408.6,249.6 L404.7,245.7 L400.8,242.1 L396.8,238.9 L392.7,235.9 L388.7,233.2 L384.7,230.9 L380.7,228.9 L376.7,227.3 L372.8,226.1 L369.0,225.2 L365.3,224.7 L361.8,224.6 L358.3,224.9 L355.1,225.5 L352.0,226.5 L349.1,227.9 L346.4,229.7 L343.9,231.8 L341.7,234.2 L339.6,237.0 L337.9,240.1 L336.4,243.5 L335.1,247.2 L334.2,251.2 L333.5,255.4 L333.1,259.8 L332.9,264.5 L333.1,269.3 L333.5,274.3 L334.3,279.4 L335.2,284.7 L336.5,290.0 L338.0,295.4 L339.8,300.9 L341.9,306.3 L344.1,311.7 L346.6,317.1 L349.3,322.4 L352.3,327.6 L355.4,332.7 L358.6,337.6 L362.1,342.4 L365.7,346.9 L369.4,351.3 L373.2,355.4 L377.1,359.3 L381.0,362.9 L385.0,366.1 L389.1,369.1 L393.1,371.8 L397.1,374.1 L401.1,376.1 L405.1,377.7 L409.0,378.9 L412.8,379.8 L416.5,380.3 L420.0,380.4 L423.5,380.1 L426.7,379.5 L429.8,378.5Z" fill="#fff"/>
<path d="M417.3,381.7 L420.6,381.8 L423.9,381.5 L427.0,380.9 L430.0,380.0 L432.8,378.7 L435.5,377.1 L438.0,375.3 L440.3,373.1 L442.4,370.6 L444.3,367.9 L445.9,364.9 L447.4,361.6 L448.6,358.1 L449.6,354.4 L450.3,350.4 L450.8,346.3 L451.0,342.0 L451.0,337.6 L450.8,333.0 L450.2,328.3 L449.5,323.5 L448.5,318.6 L447.2,313.6 L445.8,308.7 L444.1,303.7 L442.1,298.7 L440.0,293.7 L437.7,288.8 L435.3,283.9 L432.6,279.1 L429.8,274.4 L426.9,269.8 L423.8,265.3 L420.6,261.0 L417.3,256.8 L413.8,252.8 L410.3,249.0 L406.8,245.4 L403.1,242.1 L399.5,238.9 L395.8,236.0 L392.0,233.4 L388.3,231.0 L384.6,228.9 L380.9,227.0 L377.2,225.5 L373.6,224.2 L370.0,223.2 L366.4,222.6 L363.0,222.4 L359.6,222.5 L356.3,223.0 L353.2,223.8 L350.3,225.0 L347.5,226.6 L344.9,228.4 L342.6,230.5 L340.4,232.9 L338.5,235.6 L336.8,238.5 L339.8,240.1 L341.4,237.5 L343.2,235.2 L345.1,233.1 L347.2,231.4 L349.5,229.9 L351.9,228.8 L354.5,227.9 L357.2,227.3 L360.0,226.9 L362.9,226.8 L366.0,227.0 L369.2,227.4 L372.5,228.1 L375.9,229.1 L379.4,230.4 L383.0,232.0 L386.6,233.9 L390.2,236.2 L393.8,238.7 L397.4,241.4 L401.0,244.5 L404.5,247.8 L408.0,251.3 L411.4,255.0 L414.7,258.9 L417.9,263.0 L421.0,267.3 L424.0,271.7 L426.8,276.2 L429.4,280.9 L431.9,285.6 L434.2,290.4 L436.4,295.3 L438.3,300.2 L440.1,305.1 L441.6,309.9 L443.0,314.8 L444.1,319.6 L445.0,324.3 L445.8,328.9 L446.3,333.4 L446.6,337.7 L446.7,341.9 L446.5,346.0 L446.2,349.9 L445.6,353.6 L444.9,357.0 L443.9,360.3 L442.7,363.3 L441.3,366.1 L439.7,368.6 L437.9,370.9 L435.9,372.9 L433.8,374.6 L431.4,376.1 L428.9,377.3 L426.3,378.1 L423.5,378.7 L420.5,379.0 L417.5,379.0Z" fill="#231f20"/>
<path d="M432.9,375.8 L434.8,374.1 L436.5,372.2 L438.0,370.2 L439.4,367.9 L440.7,365.4 L441.8,362.8 L442.8,360.0 L443.6,357.1 L444.2,354.0 L444.7,350.8 L445.0,347.4 L445.2,343.9 L445.2,340.3 L445.0,336.6 L444.7,332.8 L444.2,329.0 L443.5,325.0 L442.7,321.1 L441.8,317.0 L440.7,312.9 L439.4,308.8 L438.0,304.7 L436.4,300.6 L434.7,296.5 L432.9,292.4 L430.9,288.4 L428.9,284.4 L426.7,280.5 L424.4,276.6 L422.0,272.8 L419.5,269.1 L416.9,265.5 L414.2,262.0 L411.4,258.6 L408.6,255.3 L405.7,252.2 L402.8,249.3 L399.8,246.5 L396.8,243.8 L393.8,241.3 L390.7,239.0 L387.6,236.9 L384.6,235.0 L381.5,233.3 L378.5,231.8 L375.5,230.4 L372.5,229.3 L369.5,228.4" fill="none" stroke="#231f20" stroke-width="1.8" stroke-linecap="round" stroke-linejoin="round"/>
<path d="M441.4,355.0 L441.8,352.6 L442.0,350.2 L442.2,347.7 L442.3,345.1 L442.3,342.5 L442.2,339.9 L442.0,337.2 L441.8,334.4 L441.4,331.6 L441.0,328.8 L440.5,325.9 L439.9,323.0 L439.3,320.1 L438.5,317.1 L437.7,314.2 L436.7,311.2 L435.8,308.2 L434.7,305.2 L433.5,302.2 L432.3,299.3 L431.0,296.3 L429.7,293.3 L428.3,290.4 L426.8,287.5 L425.2,284.6 L423.6,281.7 L421.9,278.9 L420.2,276.2 L418.4,273.4 L416.6,270.7 L414.7,268.1 L412.8,265.5 L410.9,263.0 L408.9,260.6 L406.8,258.2 L404.8,255.9 L402.7,253.6 L400.5,251.5 L398.4,249.4 L396.2,247.4 L394.0,245.5 L391.8,243.7 L389.6,242.0 L387.4,240.3 L385.1,238.8 L382.9,237.4 L380.7,236.0 L378.5,234.8" fill="none" stroke="#231f20" stroke-width="1.5" stroke-linecap="round" stroke-linejoin="round"/>
<path d="M414.5,387.6 L417.2,385.8 L419.6,383.7 L421.9,381.3 L423.9,378.5 L425.7,375.4 L427.2,372.0 L428.5,368.4 L429.5,364.4 L430.2,360.2 L430.6,355.7 L430.8,351.1 L430.6,346.3 L430.2,341.3 L429.5,336.1 L428.6,330.9 L427.3,325.5 L425.8,320.1 L424.1,314.7 L422.1,309.3 L419.8,303.8 L417.3,298.4 L414.7,293.1 L411.8,287.9 L408.7,282.8 L405.4,277.9 L402.0,273.1 L398.5,268.5 L394.8,264.1 L391.0,260.0 L387.1,256.1 L383.2,252.5 L379.2,249.2 L375.2,246.2 L371.1,243.5 L367.1,241.2 L363.1,239.2 L359.2,237.6 L355.3,236.3 L351.5,235.4 L347.8,234.9 L344.2,234.8 L340.8,235.0 L337.6,235.6 L334.5,236.6 L331.5,238.0 L328.8,239.8 L326.4,241.9 L324.1,244.3 L322.1,247.1 L320.3,250.2 L318.8,253.6 L317.5,257.2 L316.5,261.2 L315.8,265.4 L315.4,269.9 L315.2,274.5 L315.4,279.3 L315.8,284.3 L316.5,289.5 L317.4,294.7 L318.7,300.1 L320.2,305.5 L321.9,310.9 L323.9,316.3 L326.2,321.8 L328.7,327.2 L331.3,332.5 L334.2,337.7 L337.3,342.8 L340.6,347.7 L344.0,352.5 L347.5,357.1 L351.2,361.5 L355.0,365.6 L358.9,369.5 L362.8,373.1 L366.8,376.4 L370.8,379.4 L374.9,382.1 L378.9,384.4 L382.9,386.4 L386.8,388.0 L390.7,389.3 L394.5,390.2 L398.2,390.7 L401.8,390.8 L405.2,390.6 L408.4,390.0 L411.5,389.0Z" fill="#fff"/>
<path d="M399.0,392.1 L402.4,392.2 L405.6,391.9 L408.7,391.4 L411.7,390.4 L414.5,389.2 L417.2,387.7 L419.7,385.8 L422.0,383.6 L424.1,381.2 L426.0,378.4 L427.7,375.4 L429.2,372.2 L430.4,368.7 L431.4,364.9 L432.2,361.0 L432.7,356.9 L432.9,352.6 L433.0,348.1 L432.7,343.6 L432.2,338.8 L431.5,334.0 L430.5,329.2 L429.3,324.2 L427.8,319.2 L426.1,314.2 L424.3,309.2 L422.2,304.3 L419.9,299.3 L417.4,294.4 L414.8,289.6 L412.0,284.9 L409.1,280.3 L406.1,275.8 L402.9,271.4 L399.6,267.3 L396.2,263.3 L392.7,259.4 L389.2,255.8 L385.5,252.4 L381.9,249.3 L378.2,246.4 L374.5,243.7 L370.8,241.3 L367.1,239.2 L363.4,237.3 L359.7,235.7 L356.1,234.4 L352.5,233.4 L348.9,232.8 L345.5,232.5 L342.1,232.6 L338.8,233.1 L335.7,234.0 L332.7,235.1 L330.0,236.7 L327.4,238.5 L325.0,240.6 L322.9,243.0 L320.9,245.6 L319.2,248.5 L322.2,250.2 L323.8,247.6 L325.6,245.3 L327.6,243.2 L329.7,241.5 L332.0,240.0 L334.4,238.9 L336.9,238.0 L339.6,237.4 L342.4,237.1 L345.4,237.0 L348.4,237.2 L351.6,237.6 L355.0,238.3 L358.4,239.3 L361.9,240.6 L365.4,242.3 L369.0,244.2 L372.6,246.5 L376.2,249.0 L379.8,251.8 L383.4,254.8 L386.9,258.1 L390.4,261.7 L393.7,265.4 L397.0,269.3 L400.2,273.4 L403.3,277.7 L406.2,282.2 L409.0,286.7 L411.6,291.4 L414.1,296.1 L416.4,301.0 L418.5,305.8 L420.4,310.7 L422.2,315.6 L423.7,320.5 L425.0,325.3 L426.1,330.1 L427.0,334.8 L427.7,339.4 L428.2,343.9 L428.5,348.3 L428.6,352.5 L428.4,356.6 L428.1,360.4 L427.5,364.1 L426.7,367.6 L425.7,370.9 L424.5,373.9 L423.1,376.7 L421.5,379.2 L419.7,381.4 L417.7,383.4 L415.5,385.1 L413.2,386.6 L410.7,387.7 L408.0,388.6 L405.2,389.2 L402.3,389.4 L399.2,389.4Z" fill="#231f20"/>
<path d="M414.7,386.3 L416.5,384.7 L418.2,382.8 L419.8,380.7 L421.2,378.4 L422.5,376.0 L423.6,373.4 L424.6,370.6 L425.4,367.6 L426.0,364.6 L426.5,361.3 L426.9,358.0 L427.1,354.5 L427.1,350.9 L426.9,347.2 L426.6,343.4 L426.2,339.5 L425.5,335.6 L424.7,331.6 L423.8,327.6 L422.7,323.5 L421.5,319.4 L420.1,315.3 L418.5,311.1 L416.9,307.0 L415.1,302.9 L413.1,298.9 L411.1,294.9 L408.9,290.9 L406.6,287.0 L404.2,283.2 L401.7,279.5 L399.1,275.9 L396.5,272.4 L393.7,269.0 L390.9,265.7 L388.1,262.6 L385.2,259.6 L382.2,256.8 L379.2,254.1 L376.2,251.7 L373.1,249.3 L370.1,247.2 L367.0,245.3 L364.0,243.5 L360.9,242.0 L357.9,240.7 L354.9,239.5 L352.0,238.6" fill="none" stroke="#231f20" stroke-width="1.8" stroke-linecap="round" stroke-linejoin="round"/>
<path d="M423.3,365.5 L423.6,363.2 L423.9,360.7 L424.1,358.2 L424.2,355.7 L424.2,353.1 L424.1,350.4 L424.0,347.7 L423.7,345.0 L423.4,342.2 L423.0,339.3 L422.5,336.4 L421.9,333.5 L421.3,330.6 L420.5,327.7 L419.7,324.7 L418.8,321.7 L417.8,318.7 L416.8,315.7 L415.6,312.7 L414.4,309.8 L413.2,306.8 L411.8,303.8 L410.4,300.9 L408.9,298.0 L407.4,295.1 L405.8,292.2 L404.2,289.4 L402.5,286.6 L400.7,283.9 L398.9,281.2 L397.0,278.5 L395.1,275.9 L393.2,273.4 L391.2,271.0 L389.1,268.6 L387.1,266.2 L385.0,264.0 L382.9,261.8 L380.7,259.7 L378.6,257.7 L376.4,255.8 L374.2,254.0 L372.0,252.3 L369.8,250.6 L367.6,249.1 L365.3,247.6 L363.1,246.3 L360.9,245.1" fill="none" stroke="#231f20" stroke-width="1.5" stroke-linecap="round" stroke-linejoin="round"/>
<path d="M396.2,398.1 L398.9,396.4 L401.4,394.3 L403.7,391.8 L405.7,389.1 L407.5,386.0 L409.0,382.6 L410.3,378.9 L411.3,375.0 L412.1,370.8 L412.5,366.3 L412.7,361.7 L412.6,356.8 L412.2,351.8 L411.5,346.7 L410.6,341.4 L409.4,336.1 L407.9,330.7 L406.2,325.2 L404.2,319.8 L402.0,314.4 L399.5,309.0 L396.9,303.6 L394.0,298.4 L390.9,293.3 L387.7,288.3 L384.3,283.5 L380.8,278.9 L377.1,274.5 L373.3,270.4 L369.5,266.5 L365.6,262.8 L361.6,259.5 L357.6,256.5 L353.6,253.8 L349.6,251.5 L345.6,249.4 L341.6,247.8 L337.8,246.5 L334.0,245.6 L330.3,245.1 L326.7,244.9 L323.3,245.2 L320.0,245.8 L316.9,246.8 L314.0,248.1 L311.3,249.8 L308.8,251.9 L306.5,254.4 L304.5,257.1 L302.7,260.2 L301.2,263.6 L299.9,267.3 L298.9,271.2 L298.1,275.4 L297.7,279.9 L297.5,284.5 L297.6,289.4 L298.0,294.4 L298.7,299.5 L299.6,304.8 L300.8,310.1 L302.3,315.5 L304.0,321.0 L306.0,326.4 L308.2,331.8 L310.7,337.2 L313.3,342.6 L316.2,347.8 L319.3,352.9 L322.5,357.9 L325.9,362.7 L329.4,367.3 L333.1,371.7 L336.9,375.8 L340.7,379.7 L344.6,383.4 L348.6,386.7 L352.6,389.7 L356.6,392.4 L360.6,394.7 L364.6,396.8 L368.6,398.4 L372.4,399.7 L376.2,400.6 L379.9,401.1 L383.5,401.3 L386.9,401.0 L390.2,400.4 L393.3,399.4Z" fill="#fff"/>
<path d="M380.7,402.6 L384.1,402.6 L387.3,402.4 L390.4,401.8 L393.4,400.9 L396.3,399.7 L399.0,398.2 L401.5,396.3 L403.8,394.2 L405.9,391.7 L407.8,389.0 L409.5,386.0 L411.0,382.7 L412.2,379.2 L413.3,375.5 L414.0,371.6 L414.6,367.5 L414.8,363.2 L414.9,358.7 L414.7,354.1 L414.2,349.4 L413.5,344.6 L412.5,339.7 L411.3,334.8 L409.9,329.8 L408.2,324.8 L406.4,319.8 L404.3,314.8 L402.1,309.8 L399.6,304.9 L397.0,300.1 L394.3,295.4 L391.4,290.8 L388.3,286.3 L385.2,281.9 L381.9,277.7 L378.5,273.7 L375.1,269.8 L371.5,266.2 L367.9,262.8 L364.3,259.6 L360.6,256.7 L356.9,254.0 L353.2,251.6 L349.5,249.4 L345.8,247.5 L342.2,245.9 L338.6,244.6 L335.0,243.6 L331.4,243.0 L328.0,242.7 L324.6,242.8 L321.3,243.2 L318.2,244.1 L315.2,245.2 L312.4,246.8 L309.9,248.6 L307.5,250.7 L305.3,253.0 L303.4,255.7 L301.6,258.6 L304.6,260.2 L306.2,257.6 L308.0,255.3 L310.0,253.3 L312.1,251.6 L314.4,250.1 L316.9,249.0 L319.4,248.2 L322.1,247.6 L324.9,247.3 L327.8,247.2 L330.9,247.4 L334.1,247.8 L337.4,248.5 L340.8,249.6 L344.3,250.9 L347.9,252.5 L351.5,254.5 L355.1,256.8 L358.6,259.3 L362.2,262.1 L365.8,265.2 L369.3,268.5 L372.7,272.0 L376.1,275.8 L379.3,279.7 L382.5,283.9 L385.6,288.2 L388.5,292.6 L391.2,297.2 L393.8,301.9 L396.3,306.6 L398.6,311.5 L400.6,316.3 L402.5,321.2 L404.2,326.2 L405.7,331.0 L407.0,335.9 L408.1,340.7 L409.0,345.4 L409.7,350.0 L410.2,354.5 L410.4,358.9 L410.5,363.1 L410.3,367.1 L409.9,371.0 L409.3,374.7 L408.5,378.2 L407.5,381.4 L406.3,384.4 L404.9,387.2 L403.2,389.7 L401.4,392.0 L399.4,394.0 L397.3,395.7 L394.9,397.1 L392.4,398.2 L389.7,399.1 L386.9,399.6 L384.0,399.9 L380.9,399.8Z" fill="#231f20"/>
<path d="M396.4,396.8 L398.3,395.2 L400.0,393.3 L401.5,391.2 L403.0,389.0 L404.3,386.5 L405.4,383.9 L406.4,381.1 L407.2,378.2 L407.9,375.1 L408.4,371.9 L408.8,368.5 L409.0,365.0 L409.0,361.5 L408.9,357.8 L408.6,354.0 L408.1,350.1 L407.5,346.2 L406.7,342.2 L405.8,338.1 L404.7,334.0 L403.5,329.9 L402.2,325.8 L400.6,321.7 L399.0,317.5 L397.2,313.5 L395.3,309.4 L393.2,305.4 L391.1,301.4 L388.8,297.5 L386.5,293.7 L384.0,290.0 L381.4,286.3 L378.8,282.8 L376.1,279.4 L373.3,276.1 L370.4,273.0 L367.5,270.0 L364.6,267.2 L361.6,264.5 L358.6,262.0 L355.5,259.6 L352.5,257.5 L349.4,255.6 L346.4,253.8 L343.4,252.2 L340.4,250.9 L337.4,249.8 L334.5,248.8" fill="none" stroke="#231f20" stroke-width="1.8" stroke-linecap="round" stroke-linejoin="round"/>
<path d="M405.1,376.0 L405.5,373.7 L405.8,371.3 L406.0,368.8 L406.1,366.2 L406.1,363.6 L406.0,361.0 L405.9,358.3 L405.7,355.5 L405.4,352.7 L405.0,349.9 L404.5,347.0 L403.9,344.1 L403.3,341.1 L402.6,338.2 L401.7,335.2 L400.9,332.2 L399.9,329.2 L398.9,326.2 L397.7,323.3 L396.6,320.3 L395.3,317.3 L394.0,314.3 L392.6,311.4 L391.1,308.4 L389.6,305.5 L388.0,302.7 L386.4,299.8 L384.7,297.0 L382.9,294.3 L381.1,291.6 L379.3,288.9 L377.4,286.3 L375.4,283.8 L373.5,281.3 L371.5,278.9 L369.4,276.6 L367.3,274.4 L365.2,272.2 L363.1,270.1 L360.9,268.1 L358.8,266.1 L356.6,264.3 L354.4,262.6 L352.2,260.9 L350.0,259.3 L347.8,257.9 L345.5,256.5 L343.3,255.3" fill="none" stroke="#231f20" stroke-width="1.5" stroke-linecap="round" stroke-linejoin="round"/>
<path d="M377.9,408.6 L380.6,406.9 L383.2,404.8 L385.4,402.4 L387.5,399.6 L389.3,396.6 L390.8,393.2 L392.1,389.5 L393.2,385.5 L393.9,381.3 L394.4,376.9 L394.6,372.3 L394.5,367.4 L394.1,362.4 L393.5,357.3 L392.6,352.0 L391.4,346.7 L390.0,341.3 L388.3,335.8 L386.3,330.3 L384.1,324.9 L381.7,319.5 L379.0,314.1 L376.2,308.9 L373.2,303.8 L370.0,298.8 L366.6,294.0 L363.1,289.3 L359.4,284.9 L355.7,280.8 L351.9,276.8 L348.0,273.2 L344.0,269.9 L340.0,266.8 L336.0,264.1 L332.0,261.7 L328.0,259.7 L324.1,258.0 L320.2,256.7 L316.5,255.8 L312.8,255.3 L309.2,255.1 L305.8,255.3 L302.5,255.9 L299.4,256.9 L296.5,258.2 L293.8,259.9 L291.2,262.0 L289.0,264.4 L286.9,267.2 L285.1,270.2 L283.6,273.6 L282.3,277.3 L281.2,281.3 L280.5,285.5 L280.0,289.9 L279.8,294.5 L279.9,299.4 L280.3,304.4 L280.9,309.5 L281.8,314.8 L283.0,320.1 L284.4,325.5 L286.1,331.0 L288.1,336.5 L290.3,341.9 L292.7,347.3 L295.4,352.7 L298.2,357.9 L301.2,363.0 L304.4,368.0 L307.8,372.8 L311.3,377.5 L315.0,381.9 L318.7,386.0 L322.5,390.0 L326.4,393.6 L330.4,396.9 L334.4,400.0 L338.4,402.7 L342.4,405.1 L346.4,407.1 L350.3,408.8 L354.2,410.1 L357.9,411.0 L361.6,411.5 L365.2,411.7 L368.6,411.5 L371.9,410.9 L375.0,409.9Z" fill="#fff"/>
<path d="M362.4,413.0 L365.8,413.1 L369.0,412.9 L372.1,412.3 L375.1,411.4 L378.0,410.2 L380.7,408.7 L383.2,406.8 L385.5,404.7 L387.7,402.3 L389.6,399.5 L391.3,396.6 L392.8,393.3 L394.1,389.8 L395.1,386.1 L395.9,382.2 L396.4,378.1 L396.7,373.8 L396.8,369.3 L396.6,364.7 L396.2,360.0 L395.5,355.2 L394.5,350.3 L393.4,345.4 L392.0,340.4 L390.3,335.4 L388.5,330.3 L386.5,325.3 L384.2,320.4 L381.8,315.5 L379.2,310.6 L376.5,305.9 L373.6,301.2 L370.6,296.7 L367.5,292.3 L364.2,288.1 L360.9,284.1 L357.4,280.2 L353.9,276.6 L350.3,273.2 L346.7,270.0 L343.0,267.0 L339.3,264.3 L335.7,261.9 L332.0,259.7 L328.3,257.8 L324.7,256.2 L321.0,254.9 L317.5,253.8 L313.9,253.2 L310.4,252.9 L307.1,252.9 L303.8,253.4 L300.7,254.2 L297.7,255.4 L294.9,256.8 L292.3,258.6 L289.9,260.7 L287.8,263.1 L285.8,265.7 L284.0,268.6 L287.0,270.3 L288.7,267.7 L290.5,265.4 L292.4,263.4 L294.6,261.7 L296.9,260.2 L299.3,259.1 L301.9,258.3 L304.6,257.7 L307.4,257.4 L310.3,257.3 L313.4,257.5 L316.6,258.0 L319.9,258.7 L323.3,259.8 L326.8,261.1 L330.3,262.8 L333.9,264.8 L337.5,267.1 L341.1,269.6 L344.6,272.4 L348.2,275.5 L351.6,278.9 L355.1,282.4 L358.4,286.2 L361.7,290.2 L364.8,294.3 L367.8,298.6 L370.7,303.1 L373.5,307.7 L376.0,312.4 L378.5,317.1 L380.7,322.0 L382.8,326.9 L384.6,331.8 L386.3,336.7 L387.8,341.6 L389.1,346.4 L390.1,351.2 L391.0,355.9 L391.7,360.6 L392.1,365.1 L392.3,369.4 L392.4,373.7 L392.2,377.7 L391.8,381.6 L391.2,385.3 L390.4,388.7 L389.3,392.0 L388.1,395.0 L386.6,397.7 L385.0,400.2 L383.2,402.5 L381.2,404.5 L379.0,406.2 L376.7,407.6 L374.1,408.7 L371.5,409.5 L368.7,410.1 L365.7,410.3 L362.6,410.3Z" fill="#231f20"/>
<path d="M378.2,407.3 L380.0,405.7 L381.7,403.8 L383.3,401.7 L384.8,399.5 L386.1,397.1 L387.2,394.5 L388.2,391.7 L389.0,388.8 L389.7,385.7 L390.3,382.4 L390.6,379.1 L390.9,375.6 L390.9,372.0 L390.8,368.3 L390.5,364.5 L390.1,360.7 L389.5,356.7 L388.8,352.7 L387.9,348.7 L386.8,344.6 L385.6,340.5 L384.2,336.3 L382.7,332.2 L381.1,328.1 L379.3,324.0 L377.5,319.9 L375.4,315.9 L373.3,311.9 L371.1,308.0 L368.7,304.1 L366.2,300.4 L363.7,296.8 L361.1,293.2 L358.4,289.8 L355.6,286.5 L352.8,283.4 L349.9,280.3 L346.9,277.5 L344.0,274.8 L341.0,272.3 L337.9,270.0 L334.9,267.8 L331.9,265.8 L328.8,264.1 L325.8,262.5 L322.8,261.1 L319.9,260.0 L316.9,259.0" fill="none" stroke="#231f20" stroke-width="1.8" stroke-linecap="round" stroke-linejoin="round"/>
<path d="M387.0,386.6 L387.3,384.2 L387.6,381.8 L387.8,379.3 L388.0,376.8 L388.0,374.2 L388.0,371.5 L387.8,368.8 L387.6,366.0 L387.3,363.2 L386.9,360.4 L386.5,357.5 L385.9,354.6 L385.3,351.7 L384.6,348.7 L383.8,345.7 L382.9,342.8 L382.0,339.8 L380.9,336.8 L379.8,333.8 L378.7,330.8 L377.4,327.8 L376.1,324.8 L374.7,321.8 L373.3,318.9 L371.8,316.0 L370.2,313.1 L368.6,310.3 L366.9,307.5 L365.2,304.7 L363.4,302.0 L361.5,299.4 L359.7,296.8 L357.7,294.2 L355.8,291.7 L353.8,289.3 L351.7,287.0 L349.7,284.7 L347.6,282.5 L345.4,280.4 L343.3,278.4 L341.1,276.5 L339.0,274.6 L336.8,272.8 L334.6,271.2 L332.4,269.6 L330.2,268.2 L328.0,266.8 L325.8,265.5" fill="none" stroke="#231f20" stroke-width="1.5" stroke-linecap="round" stroke-linejoin="round"/>
<path d="M359.7,419.1 L362.4,417.4 L364.9,415.3 L367.2,412.9 L369.3,410.2 L371.1,407.1 L372.7,403.7 L374.0,400.1 L375.0,396.1 L375.8,391.9 L376.3,387.5 L376.5,382.8 L376.4,378.0 L376.1,373.0 L375.5,367.9 L374.6,362.6 L373.4,357.2 L372.0,351.8 L370.3,346.3 L368.4,340.9 L366.2,335.4 L363.9,330.0 L361.2,324.6 L358.4,319.4 L355.4,314.2 L352.2,309.2 L348.9,304.4 L345.4,299.8 L341.8,295.3 L338.1,291.1 L334.2,287.2 L330.4,283.6 L326.4,280.2 L322.4,277.1 L318.4,274.4 L314.5,272.0 L310.5,270.0 L306.6,268.3 L302.7,267.0 L298.9,266.0 L295.3,265.4 L291.7,265.3 L288.3,265.5 L285.0,266.0 L281.9,267.0 L278.9,268.3 L276.2,270.0 L273.7,272.1 L271.4,274.5 L269.3,277.2 L267.5,280.3 L265.9,283.7 L264.6,287.3 L263.6,291.3 L262.8,295.5 L262.3,299.9 L262.1,304.6 L262.2,309.4 L262.5,314.4 L263.1,319.5 L264.0,324.8 L265.2,330.2 L266.6,335.6 L268.3,341.1 L270.2,346.5 L272.4,352.0 L274.7,357.4 L277.4,362.8 L280.2,368.0 L283.2,373.2 L286.4,378.2 L289.7,383.0 L293.2,387.6 L296.8,392.1 L300.5,396.3 L304.4,400.2 L308.2,403.8 L312.2,407.2 L316.2,410.3 L320.2,413.0 L324.1,415.4 L328.1,417.4 L332.0,419.1 L335.9,420.4 L339.7,421.4 L343.3,422.0 L346.9,422.1 L350.3,421.9 L353.6,421.4 L356.7,420.4Z" fill="#fff"/>
<path d="M344.1,423.4 L347.5,423.5 L350.7,423.3 L353.9,422.8 L356.9,421.9 L359.7,420.7 L362.4,419.2 L364.9,417.4 L367.3,415.2 L369.4,412.8 L371.4,410.1 L373.1,407.1 L374.6,403.9 L375.9,400.4 L376.9,396.7 L377.8,392.8 L378.3,388.7 L378.6,384.4 L378.7,379.9 L378.6,375.3 L378.1,370.6 L377.5,365.8 L376.5,360.9 L375.4,355.9 L374.0,350.9 L372.4,345.9 L370.6,340.9 L368.6,335.9 L366.4,330.9 L364.0,326.0 L361.5,321.1 L358.7,316.4 L355.9,311.7 L352.9,307.2 L349.8,302.8 L346.5,298.6 L343.2,294.5 L339.8,290.6 L336.3,287.0 L332.7,283.5 L329.1,280.3 L325.5,277.4 L321.8,274.6 L318.1,272.2 L314.4,270.0 L310.8,268.1 L307.1,266.4 L303.5,265.1 L299.9,264.1 L296.4,263.4 L292.9,263.0 L289.6,263.1 L286.3,263.5 L283.1,264.3 L280.2,265.5 L277.4,266.9 L274.8,268.7 L272.4,270.8 L270.2,273.2 L268.2,275.8 L266.4,278.7 L269.5,280.3 L271.1,277.8 L272.9,275.5 L274.9,273.5 L277.0,271.8 L279.3,270.3 L281.8,269.2 L284.3,268.4 L287.0,267.9 L289.9,267.6 L292.8,267.5 L295.9,267.7 L299.0,268.2 L302.3,269.0 L305.8,270.0 L309.2,271.4 L312.8,273.1 L316.3,275.1 L319.9,277.4 L323.5,279.9 L327.0,282.8 L330.5,285.9 L334.0,289.2 L337.4,292.8 L340.7,296.6 L344.0,300.6 L347.1,304.7 L350.1,309.1 L353.0,313.5 L355.7,318.1 L358.3,322.8 L360.6,327.6 L362.9,332.5 L364.9,337.4 L366.8,342.3 L368.4,347.2 L369.9,352.1 L371.1,357.0 L372.2,361.8 L373.0,366.5 L373.6,371.1 L374.1,375.6 L374.3,380.0 L374.3,384.2 L374.1,388.3 L373.6,392.1 L373.0,395.8 L372.2,399.3 L371.1,402.5 L369.9,405.5 L368.4,408.3 L366.8,410.8 L365.0,413.0 L362.9,415.0 L360.8,416.7 L358.4,418.1 L355.9,419.2 L353.2,420.0 L350.4,420.5 L347.4,420.8 L344.4,420.7Z" fill="#231f20"/>
<path d="M359.9,417.8 L361.8,416.2 L363.5,414.3 L365.1,412.3 L366.5,410.0 L367.8,407.6 L369.0,405.0 L370.0,402.2 L370.9,399.3 L371.6,396.2 L372.1,393.0 L372.5,389.7 L372.7,386.2 L372.8,382.6 L372.7,378.9 L372.5,375.1 L372.1,371.2 L371.5,367.3 L370.8,363.3 L369.9,359.2 L368.8,355.1 L367.7,351.0 L366.3,346.9 L364.8,342.7 L363.2,338.6 L361.5,334.5 L359.6,330.4 L357.6,326.3 L355.5,322.4 L353.3,318.4 L350.9,314.6 L348.5,310.8 L346.0,307.2 L343.4,303.6 L340.7,300.2 L337.9,296.9 L335.1,293.7 L332.2,290.7 L329.3,287.8 L326.4,285.1 L323.4,282.6 L320.4,280.3 L317.3,278.1 L314.3,276.1 L311.3,274.3 L308.3,272.7 L305.3,271.4 L302.3,270.2 L299.4,269.2" fill="none" stroke="#231f20" stroke-width="1.8" stroke-linecap="round" stroke-linejoin="round"/>
<path d="M368.8,397.1 L369.2,394.8 L369.5,392.4 L369.7,389.9 L369.9,387.3 L369.9,384.7 L369.9,382.1 L369.8,379.4 L369.6,376.6 L369.3,373.8 L368.9,370.9 L368.4,368.1 L367.9,365.2 L367.3,362.2 L366.6,359.3 L365.8,356.3 L365.0,353.3 L364.0,350.3 L363.0,347.3 L361.9,344.3 L360.8,341.3 L359.6,338.3 L358.3,335.3 L356.9,332.3 L355.5,329.4 L354.0,326.5 L352.4,323.6 L350.8,320.7 L349.1,317.9 L347.4,315.2 L345.6,312.4 L343.8,309.8 L341.9,307.2 L340.0,304.6 L338.1,302.1 L336.1,299.7 L334.1,297.4 L332.0,295.1 L329.9,292.9 L327.8,290.8 L325.7,288.7 L323.5,286.8 L321.4,284.9 L319.2,283.1 L317.0,281.5 L314.8,279.9 L312.6,278.4 L310.4,277.1 L308.2,275.8" fill="none" stroke="#231f20" stroke-width="1.5" stroke-linecap="round" stroke-linejoin="round"/>
<path d="M341.4,429.6 L344.1,427.9 L346.7,425.8 L349.0,423.5 L351.0,420.7 L352.9,417.7 L354.5,414.3 L355.8,410.6 L356.9,406.7 L357.6,402.5 L358.2,398.1 L358.4,393.4 L358.4,388.6 L358.1,383.6 L357.5,378.4 L356.6,373.2 L355.5,367.8 L354.1,362.4 L352.4,356.9 L350.5,351.4 L348.4,345.9 L346.0,340.5 L343.4,335.1 L340.6,329.9 L337.7,324.7 L334.5,319.7 L331.2,314.8 L327.7,310.2 L324.1,305.7 L320.4,301.5 L316.6,297.6 L312.8,293.9 L308.8,290.5 L304.9,287.4 L300.9,284.7 L296.9,282.3 L293.0,280.2 L289.0,278.5 L285.2,277.2 L281.4,276.2 L277.7,275.6 L274.2,275.4 L270.7,275.6 L267.5,276.2 L264.4,277.1 L261.4,278.4 L258.7,280.1 L256.1,282.2 L253.8,284.5 L251.8,287.3 L249.9,290.3 L248.3,293.7 L247.0,297.4 L245.9,301.3 L245.2,305.5 L244.6,309.9 L244.4,314.6 L244.4,319.4 L244.7,324.4 L245.3,329.6 L246.2,334.8 L247.3,340.2 L248.7,345.6 L250.4,351.1 L252.3,356.6 L254.4,362.1 L256.8,367.5 L259.4,372.9 L262.2,378.1 L265.1,383.3 L268.3,388.3 L271.6,393.2 L275.1,397.8 L278.7,402.3 L282.4,406.5 L286.2,410.4 L290.0,414.1 L294.0,417.5 L297.9,420.6 L301.9,423.3 L305.9,425.7 L309.8,427.8 L313.8,429.5 L317.6,430.8 L321.4,431.8 L325.1,432.4 L328.6,432.6 L332.1,432.4 L335.3,431.8 L338.4,430.9Z" fill="#fff"/>
<path d="M338.9,432.1 L341.3,431.0 L343.6,429.8 L345.8,428.3 L347.9,426.5 L349.8,424.6 L351.6,422.4 L353.2,420.0 L354.7,417.5 L356.0,414.7 L357.1,411.8 L358.1,408.7 L358.9,405.4 L359.6,402.0 L360.1,398.4 L360.3,394.7 L360.5,390.8 L360.4,386.9 L360.1,382.9 L359.7,378.8 L359.1,374.6 L358.2,370.3 L357.3,366.0 L356.1,361.7 L354.7,357.4 L353.2,353.0 L351.6,348.7 L349.8,344.4 L347.8,340.1 L345.8,335.9 L343.6,331.7 L341.3,327.6 L338.8,323.5 L336.3,319.6 L333.7,315.7 L331.0,312.0 L328.2,308.3 L325.3,304.8 L322.4,301.5 L319.4,298.3 L316.4,295.2 L313.3,292.4 L310.2,289.6 L307.1,287.1 L304.0,284.8 L300.8,282.6 L297.7,280.6 L294.5,278.8 L291.4,277.3 L288.3,276.0 L285.1,274.9 L282.0,274.2 L279.0,273.7 L276.0,273.4 L273.1,273.5 L270.2,273.8 L267.5,274.3 L264.9,275.1 L262.4,276.1 L260.0,277.3 L257.7,278.8 L259.6,281.4 L261.6,280.2 L263.7,279.2 L266.0,278.4 L268.3,277.8 L270.7,277.5 L273.2,277.4 L275.8,277.5 L278.4,277.8 L281.2,278.3 L284.0,279.0 L286.8,279.9 L289.8,281.0 L292.8,282.3 L295.9,283.8 L299.0,285.5 L302.1,287.5 L305.2,289.7 L308.2,292.0 L311.3,294.6 L314.3,297.4 L317.3,300.4 L320.2,303.5 L323.0,306.8 L325.8,310.2 L328.5,313.8 L331.1,317.5 L333.6,321.3 L336.1,325.2 L338.4,329.2 L340.5,333.3 L342.6,337.4 L344.5,341.6 L346.3,345.9 L347.9,350.1 L349.4,354.4 L350.8,358.6 L352.0,362.8 L353.1,367.0 L354.0,371.2 L354.8,375.3 L355.4,379.3 L355.9,383.3 L356.2,387.1 L356.4,390.9 L356.4,394.5 L356.2,398.1 L355.9,401.5 L355.5,404.7 L354.8,407.8 L354.0,410.8 L353.1,413.5 L352.0,416.1 L350.7,418.5 L349.3,420.7 L347.7,422.8 L346.0,424.6 L344.2,426.2 L342.3,427.6 L340.2,428.7 L338.0,429.7Z" fill="#231f20"/>
<path d="M341.6,428.3 L343.5,426.7 L345.2,424.8 L346.8,422.8 L348.3,420.6 L349.6,418.1 L350.8,415.5 L351.8,412.8 L352.7,409.9 L353.4,406.8 L354.0,403.6 L354.4,400.2 L354.6,396.7 L354.7,393.1 L354.7,389.4 L354.4,385.7 L354.0,381.8 L353.5,377.8 L352.8,373.8 L351.9,369.8 L350.9,365.7 L349.7,361.5 L348.4,357.4 L347.0,353.2 L345.4,349.1 L343.6,345.0 L341.8,340.9 L339.8,336.8 L337.7,332.8 L335.5,328.9 L333.2,325.1 L330.8,321.3 L328.3,317.6 L325.7,314.1 L323.0,310.6 L320.3,307.3 L317.5,304.1 L314.6,301.1 L311.7,298.2 L308.7,295.5 L305.8,292.9 L302.8,290.6 L299.8,288.4 L296.7,286.4 L293.7,284.6 L290.7,283.0 L287.7,281.6 L284.8,280.4 L281.9,279.4" fill="none" stroke="#231f20" stroke-width="1.8" stroke-linecap="round" stroke-linejoin="round"/>
<path d="M350.6,407.7 L351.0,405.3 L351.4,402.9 L351.6,400.4 L351.7,397.9 L351.8,395.3 L351.8,392.6 L351.7,389.9 L351.5,387.1 L351.2,384.3 L350.9,381.5 L350.4,378.6 L349.9,375.7 L349.3,372.7 L348.6,369.8 L347.9,366.8 L347.0,363.8 L346.1,360.8 L345.1,357.8 L344.0,354.8 L342.9,351.8 L341.7,348.8 L340.4,345.8 L339.0,342.8 L337.6,339.9 L336.2,336.9 L334.6,334.1 L333.0,331.2 L331.4,328.4 L329.6,325.6 L327.9,322.9 L326.1,320.2 L324.2,317.6 L322.3,315.0 L320.4,312.5 L318.4,310.1 L316.4,307.7 L314.3,305.4 L312.3,303.2 L310.2,301.1 L308.0,299.1 L305.9,297.1 L303.7,295.2 L301.6,293.4 L299.4,291.8 L297.2,290.2 L295.0,288.7 L292.8,287.3 L290.6,286.0" fill="none" stroke="#231f20" stroke-width="1.5" stroke-linecap="round" stroke-linejoin="round"/>
<path d="M261.4,278.4 L258.0,280.4 L254.8,282.8 L251.7,285.4 L248.9,288.4 L246.4,291.6 L244.0,295.2 L241.9,298.9 L240.1,302.9 L238.5,307.2 L237.3,311.6 L236.3,316.2 L235.5,321.0 L235.1,326.0 L235.0,331.0 L235.1,336.2 L235.6,341.4 L236.3,346.7 L237.3,352.1 L238.6,357.4 L240.2,362.7 L242.0,368.0 L244.1,373.2 L246.5,378.3 L249.1,383.4 L251.9,388.3 L254.9,393.0 L258.2,397.6 L261.6,402.0 L265.2,406.2 L269.0,410.1 L272.9,413.8 L276.9,417.3 L281.0,420.4 L285.3,423.3 L289.5,425.9 L293.9,428.1 L298.3,430.1 L302.7,431.7 L307.1,432.9 L311.4,433.8 L315.7,434.4 L320.0,434.6 L324.2,434.5 L328.2,434.0 L332.2,433.1 L336.0,431.9 L339.7,430.4 L343.2,428.6" fill="none" stroke="#231f20" stroke-width="3.5" stroke-linecap="round" stroke-linejoin="round"/>
<path d="M315.9,411.7 L318.1,410.4 L320.1,408.9 L322.0,407.1 L323.7,405.1 L325.3,402.9 L326.6,400.4 L327.8,397.8 L328.8,394.9 L329.6,391.9 L330.2,388.7 L330.6,385.4 L330.8,381.9 L330.8,378.3 L330.5,374.6 L330.1,370.8 L329.5,367.0 L328.6,363.1 L327.6,359.2 L326.4,355.3 L325.0,351.4 L323.5,347.6 L321.7,343.8 L319.8,340.1 L317.8,336.4 L315.6,332.9 L313.2,329.5 L310.8,326.2 L308.2,323.1 L305.6,320.1 L302.9,317.4 L300.1,314.8 L297.2,312.5 L294.3,310.3 L291.4,308.4 L288.5,306.8 L285.5,305.4 L282.6,304.3 L279.7,303.4 L276.9,302.8 L274.1,302.4 L271.4,302.4 L268.7,302.6 L266.2,303.0 L263.8,303.8 L261.5,304.8 L259.3,306.1 L257.3,307.6 L255.4,309.4 L253.7,311.4 L252.1,313.6 L250.8,316.1 L249.6,318.7 L248.6,321.6 L247.8,324.6 L247.2,327.8 L246.8,331.1 L246.6,334.6 L246.7,338.2 L246.9,341.9 L247.3,345.7 L247.9,349.5 L248.8,353.4 L249.8,357.3 L251.0,361.2 L252.4,365.1 L254.0,368.9 L255.7,372.7 L257.6,376.4 L259.7,380.1 L261.8,383.6 L264.2,387.0 L266.6,390.3 L269.2,393.4 L271.8,396.4 L274.5,399.1 L277.3,401.7 L280.2,404.0 L283.1,406.2 L286.0,408.1 L289.0,409.7 L291.9,411.1 L294.8,412.2 L297.7,413.1 L300.5,413.7 L303.3,414.1 L306.0,414.1 L308.7,413.9 L311.2,413.5 L313.6,412.7Z" fill="#fff"/>
<path d="M289.0,409.7 L292.8,411.5 L296.7,412.9 L300.5,413.7 L304.2,414.1 L307.7,414.0 L311.1,413.5 L314.3,412.4 L317.3,410.9 L320.1,409.0 L322.5,406.6 L324.7,403.8 L326.6,400.6 L328.1,397.0 L329.3,393.1 L330.2,389.0 L330.6,384.5 L330.8,379.8 L330.6,374.9 L330.0,369.9 L329.0,364.8 L327.7,359.7 L326.1,354.5 L324.2,349.3 L321.9,344.3 L319.4,339.3 L316.6,334.5 L313.6,329.9 L310.3,325.6 L306.9,321.5 L303.3,317.8 L299.6,314.4 L295.8,311.4 L291.9,308.7 L288.0,306.6 L284.1,304.8 L280.3,303.5 L276.5,302.7 L272.8,302.4 L269.3,302.5 L265.9,303.1 L262.7,304.2 L259.8,305.8 L257.1,307.8 L254.6,310.2 L252.5,313.1 L250.7,316.3 L249.2,319.9 L248.0,323.8" fill="none" stroke="#231f20" stroke-width="3.0" stroke-linecap="round" stroke-linejoin="round"/>
<path d="M277.3,401.7 L278.6,402.8 L280.0,403.9 L281.3,404.9 L282.6,405.8 L283.9,406.7 L285.3,407.6 L286.6,408.4 L288.0,409.2 L289.3,409.9 L290.7,410.6 L292.0,411.2 L293.4,411.7 L294.7,412.2 L296.0,412.6 L297.3,413.0 L298.7,413.4 L300.0,413.6 L301.2,413.8 L302.5,414.0 L303.8,414.1 L305.0,414.2 L306.3,414.1 L307.5,414.1 L308.7,413.9 L309.9,413.8 L311.0,413.5 L312.1,413.2 L313.2,412.9 L314.3,412.5 L315.4,412.0 L316.4,411.5 L317.4,410.9 L318.4,410.3 L319.3,409.6 L320.2,408.8 L321.1,408.1 L321.9,407.2 L322.8,406.3 L323.5,405.4 L324.3,404.4 L325.0,403.4 L325.6,402.3 L326.3,401.2 L326.8,400.0 L327.4,398.8 L327.9,397.5 L328.4,396.3 L328.8,394.9" fill="none" stroke="#231f20" stroke-width="3.3" stroke-linecap="round" stroke-linejoin="round"/>
<path d="M312.6,413.7 L314.7,412.4 L316.8,410.9 L318.6,409.1 L320.4,407.1 L321.9,404.8 L323.3,402.4 L324.4,399.7 L325.4,396.9 L326.2,393.8 L326.8,390.6 L327.2,387.3 L327.4,383.8 L327.4,380.2 L327.2,376.5 L326.7,372.8 L326.1,368.9 L325.3,365.1 L324.3,361.2 L323.0,357.3 L321.7,353.4 L320.1,349.5 L318.3,345.7 L316.4,342.0 L314.4,338.4 L312.2,334.8 L309.9,331.4 L307.4,328.1 L304.9,325.0 L302.2,322.1 L299.5,319.3 L296.7,316.8 L293.8,314.4 L290.9,312.3 L288.0,310.4 L285.1,308.7 L282.1,307.3 L279.2,306.2 L276.3,305.3 L273.5,304.7 L270.7,304.4 L268.0,304.3 L265.4,304.5 L262.8,305.0 L260.4,305.7 L258.1,306.7 L255.9,308.0 L253.9,309.5 L252.0,311.3 L250.3,313.3 L248.8,315.6 L247.4,318.0 L246.2,320.7 L245.2,323.5 L244.4,326.6 L243.8,329.8 L243.5,333.1 L243.3,336.6 L243.3,340.2 L243.5,343.9 L243.9,347.6 L244.6,351.5 L245.4,355.3 L246.4,359.2 L247.6,363.1 L249.0,367.0 L250.6,370.9 L252.3,374.7 L254.2,378.4 L256.3,382.0 L258.5,385.6 L260.8,389.0 L263.2,392.3 L265.8,395.4 L268.4,398.3 L271.2,401.1 L274.0,403.6 L276.8,406.0 L279.7,408.1 L282.6,410.0 L285.6,411.7 L288.5,413.1 L291.4,414.2 L294.3,415.1 L297.2,415.7 L300.0,416.0 L302.7,416.1 L305.3,415.9 L307.8,415.4 L310.3,414.7Z" fill="#fff"/>
<path d="M285.6,411.7 L289.5,413.5 L293.3,414.8 L297.1,415.7 L300.8,416.1 L304.4,416.0 L307.8,415.4 L311.0,414.4 L313.9,412.9 L316.7,410.9 L319.1,408.6 L321.3,405.7 L323.2,402.6 L324.7,399.0 L325.9,395.1 L326.8,390.9 L327.3,386.4 L327.4,381.8 L327.2,376.9 L326.6,371.9 L325.7,366.8 L324.4,361.6 L322.8,356.4 L320.8,351.3 L318.6,346.2 L316.0,341.3 L313.2,336.5 L310.2,331.9 L306.9,327.5 L303.5,323.5 L299.9,319.7 L296.2,316.3 L292.4,313.3 L288.5,310.7 L284.6,308.5 L280.7,306.8 L276.9,305.5 L273.1,304.6 L269.4,304.3 L265.9,304.4 L262.5,305.1 L259.3,306.2 L256.4,307.7 L253.7,309.7 L251.2,312.2 L249.1,315.0 L247.3,318.3 L245.8,321.9 L244.6,325.8" fill="none" stroke="#231f20" stroke-width="2.2" stroke-linecap="round" stroke-linejoin="round"/>
<path d="M274.0,403.6 L275.3,404.7 L276.6,405.8 L277.9,406.8 L279.2,407.8 L280.6,408.7 L281.9,409.6 L283.3,410.4 L284.6,411.1 L285.9,411.8 L287.3,412.5 L288.6,413.1 L290.0,413.7 L291.3,414.2 L292.6,414.6 L294.0,415.0 L295.3,415.3 L296.6,415.6 L297.9,415.8 L299.2,416.0 L300.4,416.1 L301.7,416.1 L302.9,416.1 L304.1,416.0 L305.3,415.9 L306.5,415.7 L307.6,415.5 L308.8,415.2 L309.9,414.8 L311.0,414.4 L312.0,413.9 L313.0,413.4 L314.0,412.8 L315.0,412.2 L315.9,411.5 L316.9,410.8 L317.7,410.0 L318.6,409.2 L319.4,408.3 L320.2,407.3 L320.9,406.4 L321.6,405.3 L322.3,404.3 L322.9,403.1 L323.5,402.0 L324.0,400.8 L324.5,399.5 L325.0,398.2 L325.4,396.9" fill="none" stroke="#231f20" stroke-width="3.3" stroke-linecap="round" stroke-linejoin="round"/>
<path d="M309.2,415.6 L311.4,414.3 L313.4,412.8 L315.3,411.0 L317.0,409.0 L318.5,406.8 L319.9,404.3 L321.1,401.7 L322.1,398.8 L322.8,395.8 L323.4,392.6 L323.8,389.3 L324.0,385.8 L324.0,382.2 L323.8,378.5 L323.4,374.7 L322.7,370.9 L321.9,367.0 L320.9,363.1 L319.7,359.2 L318.3,355.3 L316.7,351.5 L315.0,347.7 L313.1,344.0 L311.0,340.3 L308.8,336.8 L306.5,333.4 L304.0,330.1 L301.5,327.0 L298.8,324.0 L296.1,321.3 L293.3,318.7 L290.5,316.4 L287.6,314.2 L284.6,312.3 L281.7,310.7 L278.8,309.3 L275.9,308.2 L273.0,307.3 L270.1,306.7 L267.3,306.3 L264.6,306.3 L262.0,306.5 L259.4,306.9 L257.0,307.7 L254.7,308.7 L252.5,310.0 L250.5,311.5 L248.6,313.3 L246.9,315.3 L245.4,317.5 L244.0,320.0 L242.8,322.6 L241.9,325.5 L241.1,328.5 L240.5,331.7 L240.1,335.0 L239.9,338.5 L239.9,342.1 L240.1,345.8 L240.6,349.6 L241.2,353.4 L242.0,357.3 L243.0,361.2 L244.2,365.1 L245.6,369.0 L247.2,372.8 L249.0,376.6 L250.9,380.3 L252.9,384.0 L255.1,387.5 L257.4,390.9 L259.9,394.2 L262.4,397.3 L265.1,400.3 L267.8,403.0 L270.6,405.6 L273.5,407.9 L276.3,410.1 L279.3,412.0 L282.2,413.6 L285.1,415.0 L288.1,416.1 L290.9,417.0 L293.8,417.6 L296.6,418.0 L299.3,418.0 L301.9,417.8 L304.5,417.4 L306.9,416.6Z" fill="#fff"/>
<path d="M282.2,413.6 L286.1,415.4 L290.0,416.8 L293.8,417.6 L297.4,418.0 L301.0,417.9 L304.4,417.4 L307.6,416.3 L310.6,414.8 L313.3,412.9 L315.8,410.5 L317.9,407.7 L319.8,404.5 L321.3,400.9 L322.6,397.0 L323.4,392.9 L323.9,388.4 L324.0,383.7 L323.8,378.8 L323.2,373.8 L322.3,368.7 L321.0,363.6 L319.4,358.4 L317.4,353.2 L315.2,348.2 L312.7,343.2 L309.9,338.4 L306.8,333.8 L303.6,329.5 L300.1,325.4 L296.5,321.7 L292.8,318.3 L289.0,315.3 L285.1,312.6 L281.3,310.5 L277.4,308.7 L273.5,307.4 L269.7,306.6 L266.0,306.3 L262.5,306.4 L259.1,307.0 L256.0,308.1 L253.0,309.7 L250.3,311.7 L247.9,314.1 L245.7,317.0 L243.9,320.2 L242.4,323.8 L241.2,327.7" fill="none" stroke="#231f20" stroke-width="2.2" stroke-linecap="round" stroke-linejoin="round"/>
<path d="M270.6,405.6 L271.9,406.7 L273.2,407.8 L274.5,408.8 L275.9,409.7 L277.2,410.6 L278.5,411.5 L279.9,412.3 L281.2,413.1 L282.6,413.8 L283.9,414.5 L285.3,415.1 L286.6,415.6 L287.9,416.1 L289.3,416.5 L290.6,416.9 L291.9,417.3 L293.2,417.5 L294.5,417.7 L295.8,417.9 L297.0,418.0 L298.3,418.1 L299.5,418.0 L300.7,418.0 L301.9,417.8 L303.1,417.7 L304.3,417.4 L305.4,417.1 L306.5,416.8 L307.6,416.4 L308.6,415.9 L309.7,415.4 L310.7,414.8 L311.6,414.2 L312.6,413.5 L313.5,412.7 L314.4,412.0 L315.2,411.1 L316.0,410.2 L316.8,409.3 L317.5,408.3 L318.2,407.3 L318.9,406.2 L319.5,405.1 L320.1,403.9 L320.6,402.7 L321.2,401.4 L321.6,400.2 L322.1,398.8" fill="none" stroke="#231f20" stroke-width="3.3" stroke-linecap="round" stroke-linejoin="round"/>
<path d="M305.8,417.6 L308.0,416.3 L310.0,414.8 L311.9,413.0 L313.6,411.0 L315.2,408.7 L316.5,406.3 L317.7,403.6 L318.7,400.8 L319.5,397.7 L320.1,394.5 L320.5,391.2 L320.6,387.7 L320.6,384.1 L320.4,380.4 L320.0,376.7 L319.4,372.8 L318.5,369.0 L317.5,365.1 L316.3,361.2 L314.9,357.3 L313.3,353.4 L311.6,349.6 L309.7,345.9 L307.6,342.3 L305.4,338.7 L303.1,335.3 L300.7,332.0 L298.1,328.9 L295.5,326.0 L292.7,323.2 L289.9,320.7 L287.1,318.3 L284.2,316.2 L281.3,314.3 L278.3,312.6 L275.4,311.2 L272.5,310.1 L269.6,309.2 L266.7,308.6 L264.0,308.3 L261.2,308.2 L258.6,308.4 L256.1,308.9 L253.6,309.6 L251.3,310.6 L249.2,311.9 L247.1,313.4 L245.3,315.2 L243.6,317.2 L242.0,319.5 L240.7,321.9 L239.5,324.6 L238.5,327.4 L237.7,330.5 L237.1,333.7 L236.7,337.0 L236.5,340.5 L236.5,344.1 L236.8,347.8 L237.2,351.5 L237.8,355.4 L238.6,359.2 L239.7,363.1 L240.9,367.0 L242.3,370.9 L243.8,374.8 L245.6,378.6 L247.5,382.3 L249.5,385.9 L251.7,389.5 L254.1,392.9 L256.5,396.2 L259.0,399.3 L261.7,402.2 L264.4,405.0 L267.2,407.5 L270.1,409.9 L273.0,412.0 L275.9,413.9 L278.8,415.6 L281.8,417.0 L284.7,418.1 L287.6,419.0 L290.4,419.6 L293.2,419.9 L295.9,420.0 L298.6,419.8 L301.1,419.3 L303.5,418.6Z" fill="#fff"/>
<path d="M278.8,415.6 L282.7,417.4 L286.6,418.7 L290.4,419.6 L294.1,420.0 L297.6,419.9 L301.0,419.3 L304.2,418.3 L307.2,416.8 L309.9,414.8 L312.4,412.5 L314.6,409.6 L316.4,406.5 L318.0,402.9 L319.2,399.0 L320.0,394.8 L320.5,390.3 L320.7,385.7 L320.4,380.8 L319.9,375.8 L318.9,370.7 L317.6,365.5 L316.0,360.3 L314.1,355.2 L311.8,350.1 L309.3,345.2 L306.5,340.4 L303.5,335.8 L300.2,331.4 L296.8,327.4 L293.2,323.6 L289.5,320.2 L285.6,317.2 L281.8,314.6 L277.9,312.4 L274.0,310.7 L270.1,309.4 L266.4,308.5 L262.7,308.2 L259.1,308.3 L255.8,309.0 L252.6,310.1 L249.6,311.6 L246.9,313.6 L244.5,316.1 L242.4,318.9 L240.5,322.2 L239.0,325.8 L237.9,329.7" fill="none" stroke="#231f20" stroke-width="2.2" stroke-linecap="round" stroke-linejoin="round"/>
<path d="M267.2,407.5 L268.5,408.6 L269.8,409.7 L271.2,410.7 L272.5,411.7 L273.8,412.6 L275.2,413.5 L276.5,414.3 L277.9,415.0 L279.2,415.7 L280.5,416.4 L281.9,417.0 L283.2,417.6 L284.6,418.1 L285.9,418.5 L287.2,418.9 L288.5,419.2 L289.8,419.5 L291.1,419.7 L292.4,419.9 L293.7,420.0 L294.9,420.0 L296.1,420.0 L297.4,419.9 L298.6,419.8 L299.7,419.6 L300.9,419.4 L302.0,419.1 L303.1,418.7 L304.2,418.3 L305.3,417.8 L306.3,417.3 L307.3,416.7 L308.3,416.1 L309.2,415.4 L310.1,414.7 L311.0,413.9 L311.8,413.1 L312.6,412.2 L313.4,411.2 L314.1,410.3 L314.8,409.2 L315.5,408.2 L316.1,407.0 L316.7,405.9 L317.3,404.7 L317.8,403.4 L318.3,402.1 L318.7,400.8" fill="none" stroke="#231f20" stroke-width="3.3" stroke-linecap="round" stroke-linejoin="round"/>
<path d="M302.4,419.5 L304.6,418.2 L306.6,416.7 L308.5,414.9 L310.2,412.9 L311.8,410.7 L313.1,408.2 L314.3,405.6 L315.3,402.7 L316.1,399.7 L316.7,396.5 L317.1,393.2 L317.3,389.7 L317.3,386.1 L317.0,382.4 L316.6,378.6 L316.0,374.8 L315.2,370.9 L314.1,367.0 L312.9,363.1 L311.5,359.2 L310.0,355.4 L308.2,351.6 L306.3,347.9 L304.3,344.2 L302.1,340.7 L299.7,337.3 L297.3,334.0 L294.7,330.9 L292.1,327.9 L289.4,325.2 L286.6,322.6 L283.7,320.3 L280.8,318.1 L277.9,316.2 L275.0,314.6 L272.0,313.2 L269.1,312.1 L266.2,311.2 L263.4,310.6 L260.6,310.2 L257.9,310.2 L255.2,310.4 L252.7,310.8 L250.3,311.6 L248.0,312.6 L245.8,313.9 L243.8,315.4 L241.9,317.2 L240.2,319.2 L238.6,321.4 L237.3,323.9 L236.1,326.5 L235.1,329.4 L234.3,332.4 L233.7,335.6 L233.3,338.9 L233.1,342.4 L233.2,346.0 L233.4,349.7 L233.8,353.5 L234.4,357.3 L235.3,361.2 L236.3,365.1 L237.5,369.0 L238.9,372.9 L240.5,376.7 L242.2,380.5 L244.1,384.2 L246.2,387.9 L248.4,391.4 L250.7,394.8 L253.1,398.1 L255.7,401.2 L258.3,404.2 L261.1,406.9 L263.9,409.5 L266.7,411.8 L269.6,414.0 L272.5,415.9 L275.5,417.5 L278.4,418.9 L281.3,420.0 L284.2,420.9 L287.0,421.5 L289.8,421.9 L292.6,421.9 L295.2,421.7 L297.7,421.3 L300.1,420.5Z" fill="#fff"/>
<path d="M275.5,417.5 L279.4,419.3 L283.2,420.7 L287.0,421.5 L290.7,421.9 L294.3,421.8 L297.6,421.3 L300.8,420.2 L303.8,418.7 L306.6,416.8 L309.0,414.4 L311.2,411.6 L313.1,408.4 L314.6,404.8 L315.8,400.9 L316.7,396.8 L317.2,392.3 L317.3,387.6 L317.1,382.7 L316.5,377.7 L315.5,372.6 L314.3,367.5 L312.6,362.3 L310.7,357.1 L308.4,352.1 L305.9,347.1 L303.1,342.3 L300.1,337.7 L296.8,333.4 L293.4,329.3 L289.8,325.6 L286.1,322.2 L282.3,319.2 L278.4,316.5 L274.5,314.4 L270.6,312.6 L266.8,311.3 L263.0,310.5 L259.3,310.2 L255.8,310.3 L252.4,310.9 L249.2,312.0 L246.3,313.6 L243.6,315.6 L241.1,318.0 L239.0,320.9 L237.2,324.1 L235.7,327.7 L234.5,331.6" fill="none" stroke="#231f20" stroke-width="2.2" stroke-linecap="round" stroke-linejoin="round"/>
<path d="M263.9,409.5 L265.2,410.6 L266.5,411.7 L267.8,412.7 L269.1,413.6 L270.5,414.5 L271.8,415.4 L273.1,416.2 L274.5,417.0 L275.8,417.7 L277.2,418.4 L278.5,419.0 L279.9,419.5 L281.2,420.0 L282.5,420.4 L283.8,420.8 L285.2,421.2 L286.5,421.4 L287.8,421.6 L289.0,421.8 L290.3,421.9 L291.5,422.0 L292.8,421.9 L294.0,421.9 L295.2,421.7 L296.4,421.6 L297.5,421.3 L298.6,421.0 L299.7,420.7 L300.8,420.3 L301.9,419.8 L302.9,419.3 L303.9,418.7 L304.9,418.1 L305.8,417.4 L306.7,416.6 L307.6,415.9 L308.4,415.0 L309.3,414.1 L310.0,413.2 L310.8,412.2 L311.5,411.2 L312.1,410.1 L312.8,409.0 L313.4,407.8 L313.9,406.6 L314.4,405.3 L314.9,404.1 L315.3,402.7" fill="none" stroke="#231f20" stroke-width="3.3" stroke-linecap="round" stroke-linejoin="round"/>
<path d="M299.1,421.5 L301.2,420.2 L303.3,418.7 L305.2,416.9 L306.9,414.9 L308.4,412.6 L309.8,410.2 L310.9,407.5 L311.9,404.7 L312.7,401.6 L313.3,398.4 L313.7,395.1 L313.9,391.6 L313.9,388.0 L313.7,384.3 L313.2,380.6 L312.6,376.7 L311.8,372.9 L310.8,369.0 L309.6,365.1 L308.2,361.2 L306.6,357.3 L304.8,353.5 L302.9,349.8 L300.9,346.2 L298.7,342.6 L296.4,339.2 L293.9,335.9 L291.4,332.8 L288.7,329.9 L286.0,327.1 L283.2,324.6 L280.3,322.2 L277.4,320.1 L274.5,318.2 L271.6,316.5 L268.7,315.1 L265.7,314.0 L262.8,313.1 L260.0,312.5 L257.2,312.2 L254.5,312.1 L251.9,312.3 L249.3,312.8 L246.9,313.5 L244.6,314.5 L242.4,315.8 L240.4,317.3 L238.5,319.1 L236.8,321.1 L235.3,323.4 L233.9,325.8 L232.7,328.5 L231.7,331.3 L230.9,334.4 L230.4,337.6 L230.0,340.9 L229.8,344.4 L229.8,348.0 L230.0,351.7 L230.4,355.4 L231.1,359.3 L231.9,363.1 L232.9,367.0 L234.1,370.9 L235.5,374.8 L237.1,378.7 L238.8,382.5 L240.7,386.2 L242.8,389.8 L245.0,393.4 L247.3,396.8 L249.7,400.1 L252.3,403.2 L254.9,406.1 L257.7,408.9 L260.5,411.4 L263.3,413.8 L266.2,415.9 L269.1,417.8 L272.1,419.5 L275.0,420.9 L277.9,422.0 L280.8,422.9 L283.7,423.5 L286.5,423.8 L289.2,423.9 L291.8,423.7 L294.3,423.2 L296.8,422.5Z" fill="#fff"/>
<path d="M272.1,419.5 L276.0,421.3 L279.8,422.6 L283.6,423.5 L287.3,423.9 L290.9,423.8 L294.3,423.2 L297.5,422.2 L300.4,420.7 L303.2,418.7 L305.6,416.4 L307.8,413.5 L309.7,410.4 L311.2,406.8 L312.4,402.9 L313.3,398.7 L313.8,394.2 L313.9,389.6 L313.7,384.7 L313.1,379.7 L312.2,374.6 L310.9,369.4 L309.3,364.2 L307.3,359.1 L305.1,354.0 L302.5,349.1 L299.7,344.3 L296.7,339.7 L293.5,335.3 L290.0,331.3 L286.4,327.5 L282.7,324.1 L278.9,321.1 L275.0,318.5 L271.1,316.3 L267.2,314.6 L263.4,313.3 L259.6,312.4 L255.9,312.1 L252.4,312.2 L249.0,312.9 L245.8,314.0 L242.9,315.5 L240.2,317.5 L237.8,320.0 L235.6,322.8 L233.8,326.1 L232.3,329.7 L231.1,333.6" fill="none" stroke="#231f20" stroke-width="2.2" stroke-linecap="round" stroke-linejoin="round"/>
<path d="M260.5,411.4 L261.8,412.5 L263.1,413.6 L264.4,414.6 L265.7,415.6 L267.1,416.5 L268.4,417.4 L269.8,418.2 L271.1,418.9 L272.5,419.6 L273.8,420.3 L275.1,420.9 L276.5,421.5 L277.8,422.0 L279.1,422.4 L280.5,422.8 L281.8,423.1 L283.1,423.4 L284.4,423.6 L285.7,423.8 L286.9,423.9 L288.2,423.9 L289.4,423.9 L290.6,423.8 L291.8,423.7 L293.0,423.5 L294.1,423.3 L295.3,423.0 L296.4,422.6 L297.5,422.2 L298.5,421.7 L299.5,421.2 L300.5,420.6 L301.5,420.0 L302.4,419.3 L303.4,418.6 L304.2,417.8 L305.1,417.0 L305.9,416.1 L306.7,415.1 L307.4,414.2 L308.1,413.1 L308.8,412.1 L309.4,410.9 L310.0,409.8 L310.5,408.6 L311.0,407.3 L311.5,406.0 L311.9,404.7" fill="none" stroke="#231f20" stroke-width="3.3" stroke-linecap="round" stroke-linejoin="round"/>
<path d="M295.7,423.4 L297.9,422.1 L299.9,420.6 L301.8,418.8 L303.5,416.8 L305.0,414.6 L306.4,412.1 L307.6,409.5 L308.6,406.6 L309.4,403.6 L309.9,400.4 L310.3,397.1 L310.5,393.6 L310.5,390.0 L310.3,386.3 L309.9,382.5 L309.2,378.7 L308.4,374.8 L307.4,370.9 L306.2,367.0 L304.8,363.1 L303.2,359.3 L301.5,355.5 L299.6,351.8 L297.5,348.1 L295.3,344.6 L293.0,341.2 L290.6,337.9 L288.0,334.8 L285.4,331.8 L282.6,329.1 L279.8,326.5 L277.0,324.2 L274.1,322.0 L271.2,320.1 L268.2,318.5 L265.3,317.1 L262.4,316.0 L259.5,315.1 L256.6,314.5 L253.8,314.1 L251.1,314.1 L248.5,314.3 L246.0,314.7 L243.5,315.5 L241.2,316.5 L239.1,317.8 L237.0,319.3 L235.2,321.1 L233.4,323.1 L231.9,325.3 L230.5,327.8 L229.4,330.4 L228.4,333.3 L227.6,336.3 L227.0,339.5 L226.6,342.8 L226.4,346.3 L226.4,349.9 L226.6,353.6 L227.1,357.4 L227.7,361.2 L228.5,365.1 L229.5,369.0 L230.8,372.9 L232.1,376.8 L233.7,380.6 L235.5,384.4 L237.4,388.1 L239.4,391.8 L241.6,395.3 L243.9,398.7 L246.4,402.0 L248.9,405.1 L251.6,408.1 L254.3,410.8 L257.1,413.4 L260.0,415.7 L262.9,417.9 L265.8,419.8 L268.7,421.4 L271.6,422.8 L274.6,423.9 L277.5,424.8 L280.3,425.4 L283.1,425.8 L285.8,425.8 L288.4,425.6 L291.0,425.2 L293.4,424.4Z" fill="#fff"/>
<path d="M268.7,421.4 L272.6,423.2 L276.5,424.6 L280.3,425.4 L283.9,425.8 L287.5,425.7 L290.9,425.2 L294.1,424.1 L297.1,422.6 L299.8,420.7 L302.3,418.3 L304.4,415.5 L306.3,412.3 L307.9,408.7 L309.1,404.8 L309.9,400.7 L310.4,396.2 L310.5,391.5 L310.3,386.6 L309.7,381.6 L308.8,376.5 L307.5,371.4 L305.9,366.2 L303.9,361.0 L301.7,356.0 L299.2,351.0 L296.4,346.2 L293.3,341.6 L290.1,337.3 L286.6,333.2 L283.1,329.5 L279.3,326.1 L275.5,323.1 L271.7,320.4 L267.8,318.3 L263.9,316.5 L260.0,315.2 L256.2,314.4 L252.6,314.1 L249.0,314.2 L245.6,314.8 L242.5,315.9 L239.5,317.5 L236.8,319.5 L234.4,321.9 L232.2,324.8 L230.4,328.0 L228.9,331.6 L227.8,335.5" fill="none" stroke="#231f20" stroke-width="2.2" stroke-linecap="round" stroke-linejoin="round"/>
<path d="M257.1,413.4 L258.4,414.5 L259.7,415.6 L261.0,416.6 L262.4,417.5 L263.7,418.4 L265.0,419.3 L266.4,420.1 L267.7,420.9 L269.1,421.6 L270.4,422.3 L271.8,422.9 L273.1,423.4 L274.4,423.9 L275.8,424.3 L277.1,424.7 L278.4,425.1 L279.7,425.3 L281.0,425.5 L282.3,425.7 L283.5,425.8 L284.8,425.9 L286.0,425.8 L287.2,425.8 L288.4,425.6 L289.6,425.5 L290.8,425.2 L291.9,424.9 L293.0,424.6 L294.1,424.2 L295.1,423.7 L296.2,423.2 L297.2,422.6 L298.1,422.0 L299.1,421.3 L300.0,420.5 L300.9,419.8 L301.7,418.9 L302.5,418.0 L303.3,417.1 L304.0,416.1 L304.7,415.1 L305.4,414.0 L306.0,412.9 L306.6,411.7 L307.2,410.5 L307.7,409.2 L308.1,408.0 L308.6,406.6" fill="none" stroke="#231f20" stroke-width="3.3" stroke-linecap="round" stroke-linejoin="round"/>
<path d="M292.3,425.4 L294.5,424.1 L296.5,422.6 L298.4,420.8 L300.1,418.8 L301.7,416.5 L303.0,414.1 L304.2,411.4 L305.2,408.6 L306.0,405.5 L306.6,402.3 L307.0,399.0 L307.2,395.5 L307.1,391.9 L306.9,388.2 L306.5,384.5 L305.9,380.6 L305.0,376.8 L304.0,372.9 L302.8,369.0 L301.4,365.1 L299.8,361.2 L298.1,357.4 L296.2,353.7 L294.1,350.1 L291.9,346.5 L289.6,343.1 L287.2,339.8 L284.6,336.7 L282.0,333.8 L279.2,331.0 L276.5,328.5 L273.6,326.1 L270.7,324.0 L267.8,322.1 L264.8,320.4 L261.9,319.0 L259.0,317.9 L256.1,317.0 L253.3,316.4 L250.5,316.1 L247.7,316.0 L245.1,316.2 L242.6,316.7 L240.2,317.4 L237.9,318.4 L235.7,319.7 L233.7,321.2 L231.8,323.0 L230.1,325.0 L228.5,327.3 L227.2,329.7 L226.0,332.4 L225.0,335.2 L224.2,338.3 L223.6,341.5 L223.2,344.8 L223.0,348.3 L223.0,351.9 L223.3,355.6 L223.7,359.3 L224.3,363.2 L225.1,367.0 L226.2,370.9 L227.4,374.8 L228.8,378.7 L230.3,382.6 L232.1,386.4 L234.0,390.1 L236.0,393.7 L238.2,397.3 L240.6,400.7 L243.0,404.0 L245.6,407.1 L248.2,410.0 L250.9,412.8 L253.7,415.3 L256.6,417.7 L259.5,419.8 L262.4,421.7 L265.3,423.4 L268.3,424.8 L271.2,425.9 L274.1,426.8 L276.9,427.4 L279.7,427.7 L282.4,427.8 L285.1,427.6 L287.6,427.1 L290.0,426.4Z" fill="#fff"/>
<path d="M265.3,423.4 L269.2,425.2 L273.1,426.5 L276.9,427.4 L280.6,427.8 L284.1,427.7 L287.5,427.1 L290.7,426.1 L293.7,424.6 L296.4,422.6 L298.9,420.3 L301.1,417.4 L302.9,414.3 L304.5,410.7 L305.7,406.8 L306.5,402.6 L307.0,398.1 L307.2,393.5 L306.9,388.6 L306.4,383.6 L305.4,378.5 L304.1,373.3 L302.5,368.1 L300.6,363.0 L298.3,357.9 L295.8,353.0 L293.0,348.2 L290.0,343.6 L286.7,339.2 L283.3,335.2 L279.7,331.4 L276.0,328.0 L272.2,325.0 L268.3,322.4 L264.4,320.2 L260.5,318.5 L256.6,317.2 L252.9,316.3 L249.2,316.0 L245.6,316.1 L242.3,316.8 L239.1,317.9 L236.1,319.4 L233.4,321.4 L231.0,323.9 L228.9,326.7 L227.0,330.0 L225.5,333.6 L224.4,337.5" fill="none" stroke="#231f20" stroke-width="2.2" stroke-linecap="round" stroke-linejoin="round"/>
<path d="M253.7,415.3 L255.0,416.4 L256.3,417.5 L257.7,418.5 L259.0,419.5 L260.3,420.4 L261.7,421.3 L263.0,422.1 L264.4,422.8 L265.7,423.5 L267.1,424.2 L268.4,424.8 L269.7,425.4 L271.1,425.9 L272.4,426.3 L273.7,426.7 L275.0,427.0 L276.3,427.3 L277.6,427.5 L278.9,427.7 L280.2,427.8 L281.4,427.8 L282.7,427.8 L283.9,427.7 L285.1,427.6 L286.2,427.4 L287.4,427.2 L288.5,426.9 L289.6,426.5 L290.7,426.1 L291.8,425.6 L292.8,425.1 L293.8,424.5 L294.8,423.9 L295.7,423.2 L296.6,422.5 L297.5,421.7 L298.3,420.9 L299.1,420.0 L299.9,419.0 L300.6,418.1 L301.4,417.0 L302.0,416.0 L302.6,414.8 L303.2,413.7 L303.8,412.5 L304.3,411.2 L304.8,409.9 L305.2,408.6" fill="none" stroke="#231f20" stroke-width="3.3" stroke-linecap="round" stroke-linejoin="round"/>
<path d="M292.2,426.3 L294.4,425.0 L296.5,423.4 L298.5,421.6 L300.3,419.6 L302.0,417.4 L303.4,414.9 L304.7,412.2 L305.8,409.4 L306.7,406.4 L307.4,403.2 L307.9,399.9 L308.2,396.4 L308.3,392.9 L308.1,389.2 L307.8,385.5 L307.3,381.7 L306.5,377.9 L305.6,374.1 L304.4,370.3 L303.1,366.5 L301.6,362.7 L299.9,359.0 L298.1,355.4 L296.0,351.8 L293.9,348.4 L291.6,345.1 L289.2,341.9 L286.6,338.9 L284.0,336.0 L281.3,333.4 L278.4,330.9 L275.6,328.7 L272.7,326.7 L269.7,324.9 L266.7,323.3 L263.7,322.0 L260.8,321.0 L257.8,320.2 L254.9,319.7 L252.1,319.4 L249.3,319.4 L246.6,319.7 L243.9,320.2 L241.4,321.0 L239.0,322.1 L236.8,323.4 L234.6,325.0 L232.7,326.8 L230.9,328.8 L229.2,331.0 L227.7,333.5 L226.5,336.2 L225.4,339.0 L224.5,342.0 L223.8,345.2 L223.3,348.5 L223.0,352.0 L222.9,355.5 L223.0,359.2 L223.4,362.9 L223.9,366.7 L224.7,370.5 L225.6,374.3 L226.7,378.1 L228.1,381.9 L229.6,385.7 L231.3,389.4 L233.1,393.0 L235.1,396.6 L237.3,400.0 L239.6,403.3 L242.0,406.5 L244.6,409.5 L247.2,412.4 L249.9,415.0 L252.7,417.5 L255.6,419.7 L258.5,421.7 L261.5,423.5 L264.5,425.1 L267.4,426.4 L270.4,427.4 L273.4,428.2 L276.3,428.7 L279.1,429.0 L281.9,429.0 L284.6,428.7 L287.2,428.2 L289.8,427.4Z" fill="#fff"/>
<path d="M268.2,323.7 L266.3,322.5 L264.4,321.5 L262.4,320.5 L260.5,319.7 L258.5,319.0 L256.6,318.4 L254.7,317.8 L252.8,317.4 L250.8,317.2 L249.0,317.0 L247.1,316.9 L245.3,317.0 L243.5,317.1 L241.7,317.4 L240.0,317.8 L238.3,318.3 L236.7,318.9 L235.1,319.6 L233.6,320.5 L232.1,321.4 L230.7,322.4 L229.4,323.6 L228.1,324.8 L226.9,326.2 L225.8,327.6 L224.7,329.1 L223.7,330.7 L222.8,332.4 L222.0,334.2 L221.2,336.0 L220.6,337.9 L220.0,339.9 L219.5,342.0 L219.1,344.1 L218.8,346.3 L218.6,348.5 L218.5,350.7 L218.4,353.0 L218.5,355.4 L218.6,357.8 L247.1,343.8 L246.8,341.3 L246.7,338.9 L246.6,336.5 L246.7,334.1 L246.8,331.8 L247.0,329.5 L247.3,327.4 L247.7,325.2 L248.2,323.2 L248.7,321.2 L249.4,319.3 L250.1,317.5 L250.9,315.8 L251.8,314.1 L252.8,312.6 L253.8,311.2 L255.0,309.8 L256.2,308.6 L257.4,307.4 L258.8,306.4 L260.2,305.5 L261.6,304.7 L263.2,304.0 L264.7,303.4 L266.3,303.0 L268.0,302.7 L269.7,302.4 L271.5,302.4 L273.3,302.4 L275.1,302.5 L277.0,302.8 L278.9,303.2 L280.8,303.7 L282.7,304.3 L284.6,305.0 L286.5,305.9 L288.5,306.8 L290.4,307.9 L292.4,309.1 L294.3,310.3Z" fill="#231f20"/>
<path d="M286.1,420.1 L288.3,418.8 L290.5,417.2 L292.4,415.4 L294.3,413.4 L295.9,411.2 L297.4,408.8 L298.8,406.2 L299.9,403.4 L300.8,400.5 L301.6,397.4 L302.1,394.2 L302.4,390.8 L302.6,387.4 L302.5,383.8 L302.2,380.2 L301.7,376.6 L301.1,372.9 L300.2,369.2 L299.1,365.5 L297.8,361.8 L296.4,358.2 L294.8,354.6 L293.0,351.1 L291.1,347.7 L289.0,344.4 L286.7,341.2 L284.4,338.2 L281.9,335.3 L279.3,332.6 L276.7,330.1 L273.9,327.7 L271.1,325.6 L268.2,323.7 L265.3,322.0 L262.4,320.5 L259.5,319.3 L256.5,318.3 L253.6,317.6 L250.7,317.1 L247.9,316.9 L245.1,317.0 L242.4,317.3 L239.8,317.9 L237.3,318.7 L234.9,319.7 L232.7,321.0 L230.5,322.6 L228.6,324.4 L226.7,326.4 L225.1,328.6 L223.6,331.0 L222.2,333.6 L221.1,336.4 L220.2,339.3 L219.4,342.4 L218.9,345.6 L218.6,349.0 L218.4,352.4 L218.5,356.0 L218.8,359.6 L219.3,363.2 L219.9,366.9 L220.8,370.6 L221.9,374.3 L223.2,378.0 L224.6,381.6 L226.2,385.2 L228.0,388.7 L229.9,392.1 L232.0,395.4 L234.3,398.6 L236.6,401.6 L239.1,404.5 L241.7,407.2 L244.3,409.7 L247.1,412.1 L249.9,414.2 L252.8,416.1 L255.7,417.8 L258.6,419.3 L261.5,420.5 L264.5,421.5 L267.4,422.2 L270.3,422.7 L273.1,422.9 L275.9,422.8 L278.6,422.5 L281.2,421.9 L283.7,421.1Z" fill="#fff"/>
<path d="M281.5,335.8 L280.0,334.1 L278.4,332.5 L276.8,331.0 L275.1,329.5 L273.4,328.1 L271.7,326.8 L270.0,325.6 L268.3,324.4 L266.5,323.3 L264.7,322.3 L263.0,321.5 L261.2,320.6 L259.4,319.9 L257.6,319.3 L255.9,318.8 L254.1,318.3 L252.4,318.0 L250.6,317.7 L248.9,317.6 L247.2,317.5 L245.5,317.6 L243.9,317.7 L242.3,317.9 L240.7,318.3 L239.2,318.7 L237.7,319.2 L236.2,319.8 L234.8,320.5 L233.4,321.3 L232.1,322.2 L230.8,323.1 L229.6,324.2 L228.4,325.3 L227.4,326.5 L226.3,327.8 L225.3,329.2 L224.4,330.7 L223.6,332.2 L222.8,333.8 L222.1,335.4 L221.5,337.2 L220.9,339.0 L220.4,340.8 L220.0,342.7 L219.6,344.6 L219.4,346.6 L219.2,348.6 L219.1,350.7 L219.0,352.8 L219.1,355.0 L219.2,357.1 L219.4,359.3 L219.6,361.5 L220.0,363.7 L220.4,366.0 L220.9,368.2 L221.4,370.5 L222.0,372.7 L222.7,374.9 L223.5,377.2 L224.3,379.4 L225.3,381.6 L226.2,383.8 L227.3,385.9 L228.3,388.0 L229.5,390.1 L230.7,392.2 L232.0,394.2 L233.3,396.2 L234.7,398.1 L236.1,399.9 L237.5,401.8 L239.0,403.5 L240.6,405.2 L242.1,406.8 L243.8,408.4 L245.4,409.9 L247.1,411.3 L248.8,412.6 L250.5,413.9 L252.2,415.1 L254.0,416.2 L255.7,417.2 L257.5,418.1 L259.3,418.9 L261.0,419.7 L262.8,420.3 L264.6,420.9 L266.4,421.4 L268.1,421.7" fill="none" stroke="#231f20" stroke-width="3.7" stroke-linecap="round" stroke-linejoin="round"/>
<path d="M267.4,426.4 L270.0,427.3 L272.5,428.0 L275.0,428.5 L277.5,428.9 L279.9,429.0 L282.3,429.0 L284.6,428.7 L286.8,428.3 L289.0,427.7 L291.1,426.8 L293.1,425.8 L295.0,424.6 L296.8,423.3 L298.4,421.7 L300.0,420.0 L301.5,418.1 L302.8,416.1 L304.0,413.9 L305.0,411.6 L305.9,409.1 L306.7,406.6 L307.3,403.9 L307.8,401.1 L308.1,398.2 L308.2,395.2 L308.3,392.1 L308.1,389.0 L307.8,385.8 L307.4,382.6 L306.8,379.4 L306.1,376.1 L305.2,372.8 L304.2,369.6 L303.1,366.3 L301.8,363.1 L300.4,359.9 L298.8,356.8 L297.2,353.7 L295.4,350.7 L293.5,347.8 L291.5,345.0 L289.5,342.3 L287.3,339.7 L285.1,337.2 L282.8,334.9 L280.4,332.7 L278.0,330.6 L275.6,328.7" fill="none" stroke="#231f20" stroke-width="3.4" stroke-linecap="round" stroke-linejoin="round"/>
<path d="M282.1,412.1 L283.9,411.1 L285.6,409.9 L287.1,408.4 L288.5,406.8 L289.8,405.1 L291.0,403.1 L292.0,401.0 L292.8,398.7 L293.5,396.3 L294.1,393.8 L294.4,391.2 L294.7,388.5 L294.7,385.7 L294.6,382.8 L294.3,379.8 L293.9,376.8 L293.3,373.8 L292.5,370.8 L291.6,367.7 L290.6,364.7 L289.3,361.7 L288.0,358.8 L286.5,355.9 L284.9,353.0 L283.2,350.3 L281.4,347.7 L279.5,345.2 L277.5,342.8 L275.4,340.5 L273.2,338.4 L271.0,336.4 L268.7,334.6 L266.4,333.0 L264.1,331.6 L261.7,330.4 L259.4,329.3 L257.0,328.5 L254.7,327.8 L252.4,327.4 L250.2,327.2 L248.0,327.2 L245.8,327.4 L243.8,327.8 L241.8,328.4 L239.9,329.3 L238.1,330.3 L236.4,331.5 L234.9,333.0 L233.5,334.6 L232.2,336.3 L231.0,338.3 L230.0,340.4 L229.2,342.7 L228.5,345.1 L227.9,347.6 L227.6,350.2 L227.3,352.9 L227.3,355.7 L227.4,358.6 L227.7,361.6 L228.1,364.6 L228.7,367.6 L229.5,370.6 L230.4,373.7 L231.4,376.7 L232.7,379.7 L234.0,382.6 L235.5,385.5 L237.1,388.4 L238.8,391.1 L240.6,393.7 L242.5,396.2 L244.5,398.6 L246.6,400.9 L248.8,403.0 L251.0,405.0 L253.3,406.8 L255.6,408.4 L257.9,409.8 L260.3,411.0 L262.6,412.1 L265.0,412.9 L267.3,413.6 L269.6,414.0 L271.8,414.2 L274.0,414.2 L276.2,414.0 L278.2,413.6 L280.2,413.0Z" fill="#fff"/>
<path d="M282.1,412.1 L283.9,411.1 L285.6,409.9 L287.1,408.4 L288.5,406.8 L289.8,405.1 L291.0,403.1 L292.0,401.0 L292.8,398.7 L293.5,396.3 L294.1,393.8 L294.4,391.2 L294.7,388.5 L294.7,385.7 L294.6,382.8 L294.3,379.8 L293.9,376.8 L293.3,373.8 L292.5,370.8 L291.6,367.7 L290.6,364.7 L289.3,361.7 L288.0,358.8 L286.5,355.9 L284.9,353.0 L283.2,350.3 L281.4,347.7 L279.5,345.2 L277.5,342.8 L275.4,340.5 L273.2,338.4 L271.0,336.4 L268.7,334.6 L266.4,333.0 L264.1,331.6 L261.7,330.4 L259.4,329.3 L257.0,328.5 L254.7,327.8 L252.4,327.4 L250.2,327.2 L248.0,327.2 L245.8,327.4 L243.8,327.8 L241.8,328.4 L239.9,329.3 L238.1,330.3 L236.4,331.5 L234.9,333.0 L233.5,334.6 L232.2,336.3 L231.0,338.3 L230.0,340.4 L229.2,342.7 L228.5,345.1 L227.9,347.6 L227.6,350.2 L227.3,352.9 L227.3,355.7 L227.4,358.6 L227.7,361.6 L228.1,364.6 L228.7,367.6 L229.5,370.6 L230.4,373.7 L231.4,376.7 L232.7,379.7 L234.0,382.6 L235.5,385.5 L237.1,388.4 L238.8,391.1 L240.6,393.7 L242.5,396.2 L244.5,398.6 L246.6,400.9 L248.8,403.0 L251.0,405.0 L253.3,406.8 L255.6,408.4 L257.9,409.8 L260.3,411.0 L262.6,412.1 L265.0,412.9 L267.3,413.6 L269.6,414.0 L271.8,414.2 L274.0,414.2 L276.2,414.0 L278.2,413.6 L280.2,413.0 L282.1,412.1" fill="none" stroke="#231f20" stroke-width="1.6" stroke-linecap="round" stroke-linejoin="round"/>
<path d="M227.8,355.7 L227.8,353.6 L227.9,351.6 L228.1,349.6 L228.4,347.7 L228.8,345.8 L229.3,344.0 L229.8,342.3 L230.5,340.6 L231.2,339.0 L232.0,337.6 L232.9,336.2 L233.9,334.9 L234.9,333.7 L236.0,332.6 L237.2,331.6 L238.4,330.7 L239.7,329.9 L241.0,329.3 L242.4,328.7 L243.9,328.3 L245.4,328.0 L246.9,327.8 L248.5,327.7 L250.1,327.7 L251.8,327.8 L253.5,328.1 L255.2,328.5 L255.6,344.5Z" fill="#231f20"/>
<path d="M228.3,358.2 L255.8,347.2" fill="none" stroke="#231f20" stroke-width="1.0" stroke-linejoin="miter"/>
<path d="M255.4,331.6 L256.5,345.0 L261.2,360.9 L267.5,374.0 L275.3,386.7 L282.0,395.5 L289.3,403.0" fill="none" stroke="#231f20" stroke-width="1.3" stroke-linejoin="miter"/>
<path d="M260.0,335.1 L262.5,347.0 L267.0,358.5 L274.0,373.0 L282.3,386.7 L287.5,393.0 L292.8,398.4" fill="none" stroke="#231f20" stroke-width="1.3" stroke-linejoin="miter"/>
<path d="M267.8,414.0 L275.0,412.6 L282.0,409.6 L288.0,405.0 L292.6,399.2 L294.2,402.0 L292.8,408.5 L288.5,414.0 L281.5,418.2 L274.0,420.6 L268.5,420.8Z" fill="#231f20"/>
</g>
<g id="leaders">
<path d="M272.2,268.6 L272.2,281.0 L260.5,278.8Z" fill="#231f20"/>
<rect x="272.7" y="252" width="4.6" height="44" fill="#fff"/>
<path d="M490.5,59.8 L490.5,156.0" fill="none" stroke="#231f20" stroke-width="1.6" stroke-linejoin="miter"/>
<path d="M272.0,182.0 L272.0,293.0" fill="none" stroke="#231f20" stroke-width="1.6" stroke-linejoin="miter"/>
<path d="M442.0,115.7 L471.0,98.7" fill="none" stroke="#231f20" stroke-width="1.7" stroke-linejoin="miter"/><path d="M490.0,87.6 L469.9,107.7 L471.0,98.7 L462.6,95.3Z" fill="#231f20"/>
<path d="M323.6,183.8 L291.7,201.9" fill="none" stroke="#231f20" stroke-width="1.7" stroke-linejoin="miter"/><path d="M272.6,212.7 L293.0,192.9 L291.7,201.9 L300.1,205.4Z" fill="#231f20"/>
<path d="M132.0,316.0 L155.4,316.0" fill="none" stroke="#231f20" stroke-width="1.6" stroke-linejoin="miter"/>
<path d="M155.4,316.0 L196.1,342.7" fill="none" stroke="#231f20" stroke-width="1.7" stroke-linejoin="miter"/><path d="M214.5,354.8 L187.6,345.7 L196.1,342.7 L195.5,333.7Z" fill="#231f20"/>
<path d="M665.0,260.6 L638.4,260.6" fill="none" stroke="#231f20" stroke-width="1.6" stroke-linejoin="miter"/>
<path d="M638.4,260.6 L571.3,235.3" fill="none" stroke="#231f20" stroke-width="1.7" stroke-linejoin="miter"/><path d="M550.2,227.4 L578.9,230.7 L571.3,235.3 L573.9,243.8Z" fill="#231f20"/>
<path d="M497.6,456.4 L470.0,456.4" fill="none" stroke="#231f20" stroke-width="1.6" stroke-linejoin="miter"/>
<path d="M470.0,456.4 L440.2,398.5" fill="none" stroke="#231f20" stroke-width="1.7" stroke-linejoin="miter"/><path d="M431.3,381.2 L449.1,400.1 L440.2,398.5 L436.3,406.7Z" fill="#231f20"/>
<rect x="266.0" y="415.5" width="2.6" height="13" fill="#fff"/>
<path d="M268.5,487.5 L224.2,487.5" fill="none" stroke="#231f20" stroke-width="1.6" stroke-linejoin="miter"/>
<path d="M224.2,487.5 L254.4,435.3" fill="none" stroke="#231f20" stroke-width="1.7" stroke-linejoin="miter"/><path d="M265.2,416.7 L257.6,443.5 L254.4,435.3 L245.7,436.6Z" fill="#231f20"/>
</g>
<g id="labels" style="will-change:transform">
<text transform="translate(298.89,98.50) scale(1.0505,1)" font-size="26.38">3.0</text>
<text transform="translate(385.44,98.50) scale(1.0434,1)" font-size="26.38">11.0</text>
<text transform="translate(345.83,112.10) scale(0.9437,1)" font-size="24.93">TO</text>
<text transform="translate(298.12,127.10) scale(1.0027,1)" font-size="22.90">(76)</text>
<text transform="translate(382.37,127.10) scale(1.0374,1)" font-size="22.90">(279)</text>
<text transform="translate(279.87,156.70) scale(0.9836,1)" font-size="27.25">ADJUSTABLE</text>
<text transform="translate(21.47,274.00) scale(0.9783,1)" font-size="27.68">1.5 INCH</text>
<text transform="translate(25.76,305.30) scale(0.9954,1)" font-size="27.68">SERIES</text>
<text transform="translate(38.30,336.50) scale(0.9935,1)" font-size="27.68">MALE</text>
<text transform="translate(21.64,367.50) scale(0.9776,1)" font-size="27.68">FLANGE</text>
<text transform="translate(670.77,225.90) scale(0.9792,1)" font-size="27.68">1.5 INCH</text>
<text transform="translate(675.56,257.30) scale(0.9923,1)" font-size="27.68">SERIES</text>
<text transform="translate(670.31,288.80) scale(0.9897,1)" font-size="27.68">FEMALE</text>
<text transform="translate(670.82,320.20) scale(0.9851,1)" font-size="27.68">FLANGE</text>
<text transform="translate(504.08,438.90) scale(1.0673,1)" font-size="26.67">2.8</text>
<text transform="translate(502.38,465.70) scale(1.0344,1)" font-size="22.90">(71)</text>
<text transform="translate(496.54,496.80) scale(1.0205,1)" font-size="27.68">DIA.</text>
<text transform="translate(283.40,481.00) scale(0.9478,1)" font-size="26.67">1.3</text>
<text transform="translate(278.89,509.30) scale(1.0265,1)" font-size="22.90">(33)</text>
<text transform="translate(273.96,539.80) scale(0.9714,1)" font-size="27.68">C.A.</text>
</g>
</svg>
</body></html>
